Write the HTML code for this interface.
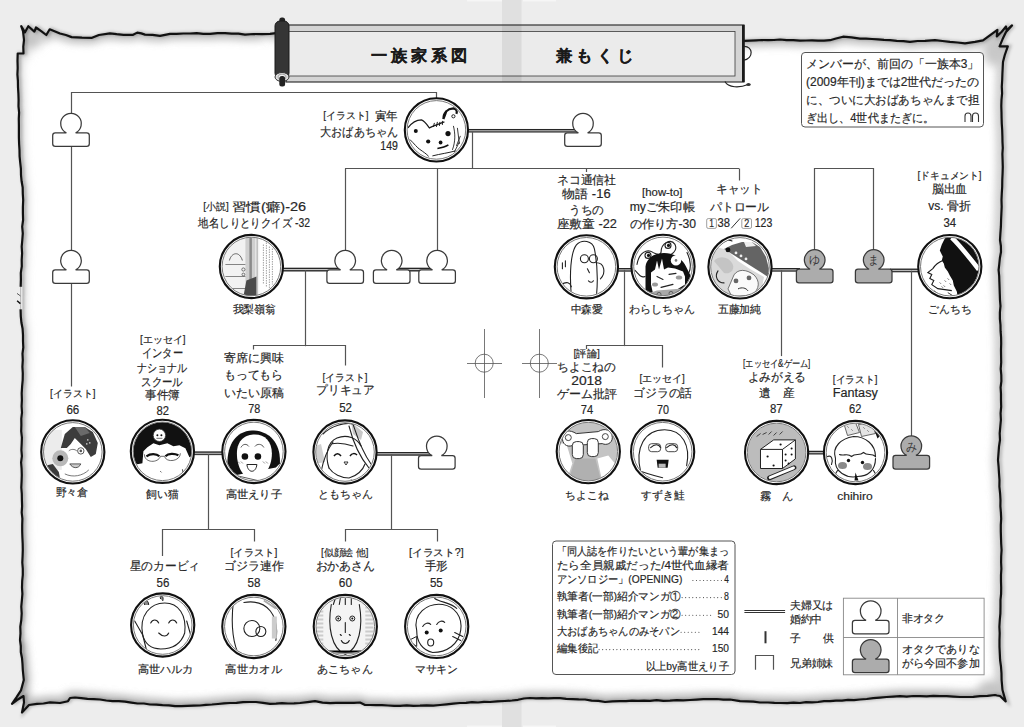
<!DOCTYPE html><html><head><meta charset="utf-8"><style>
html,body{margin:0;padding:0;width:1024px;height:727px;overflow:hidden;background:#ededed;font-family:"Liberation Sans",sans-serif}
</style></head><body>
<svg width="1024" height="727" viewBox="0 0 1024 727" style="position:absolute;left:0;top:0" font-family="'Liberation Sans', sans-serif">
<defs>
<clipPath id="pc"><path d="M21.2,26.2 L25.0,32.3 L28.3,26.2 L34.4,31.6 L36.0,27.5 L41.2,31.1 L46.3,35.0 L49.7,29.3 L60.0,33.5 L65.9,35.0 L71.6,37.1 L82.0,37.6 L92.0,37.8 L98.9,35.0 L109.9,33.3 L116.7,34.2 L123.5,34.8 L133.1,34.8 L137.2,32.6 L141.3,33.4 L145.0,34.6 L152.5,34.8 L160.0,35.8 L170.0,33.9 L176.7,33.8 L183.3,33.5 L190.0,33.5 L196.7,33.2 L203.3,33.8 L210.0,33.9 L217.5,33.1 L225.0,33.2 L231.7,33.6 L238.4,33.7 L245.0,34.6 L253.5,34.0 L262.0,34.2 L270.0,33.9 L276.0,33.2 L282.0,33.2 L288.0,33.7 L294.0,33.2 L300.0,33.3 L306.0,33.8 L312.0,34.2 L318.0,34.0 L324.0,33.9 L330.0,34.5 L336.0,33.8 L342.0,34.6 L348.0,34.2 L354.0,34.2 L360.0,34.2 L366.0,34.5 L372.0,35.1 L378.0,34.6 L384.0,35.1 L390.0,35.2 L396.0,35.1 L402.0,35.3 L408.0,35.0 L414.0,35.1 L420.0,35.3 L426.0,35.8 L432.0,35.7 L438.0,35.7 L444.0,36.0 L450.0,36.0 L456.0,36.0 L462.0,36.5 L468.0,36.5 L474.0,36.2 L480.0,36.6 L486.0,36.7 L492.0,37.1 L498.0,37.1 L504.0,36.8 L510.0,37.5 L516.0,36.8 L522.0,37.2 L528.0,37.6 L534.0,37.1 L540.0,37.5 L546.0,37.2 L552.0,37.9 L558.0,38.1 L564.0,38.0 L570.0,38.4 L576.0,38.0 L582.0,38.4 L588.0,38.4 L594.0,38.5 L600.0,38.5 L606.0,38.9 L612.0,39.1 L618.0,38.8 L624.0,39.1 L630.0,38.6 L636.0,39.3 L642.0,39.4 L648.0,39.8 L654.0,39.7 L660.0,39.3 L666.0,39.5 L672.0,39.9 L678.0,39.4 L684.0,39.9 L690.0,39.7 L696.0,39.8 L702.0,39.8 L708.0,40.5 L714.0,40.1 L720.0,40.3 L726.0,40.5 L732.0,41.0 L738.0,40.4 L744.0,40.9 L750.0,40.6 L756.0,40.3 L762.0,40.0 L768.0,40.2 L774.0,40.0 L780.0,39.5 L786.6,40.2 L793.3,40.1 L800.0,40.7 L806.0,40.5 L812.0,40.4 L818.0,40.7 L824.0,40.7 L830.0,40.2 L836.0,38.5 L843.0,36.7 L851.5,37.3 L860.0,38.6 L866.0,38.6 L872.0,39.0 L878.0,39.3 L884.0,39.9 L890.0,40.2 L896.7,40.8 L903.4,41.1 L910.0,41.9 L917.5,41.0 L925.0,40.9 L935.0,40.2 L942.5,41.0 L950.0,41.9 L957.5,42.5 L965.0,43.3 L975.0,41.9 L983.0,40.3 L990.2,35.1 L997.4,29.8 L996.8,36.4 L1001.7,31.7 L1006.0,26.5 L1006.7,30.4 L1012.0,25.4 L1006.0,32.0 L1002.6,39.1 L999.6,46.3 L1007.8,46.3 L1004.8,55.0 L1003.0,62.0 L1003.0,62.0 L1002.7,68.0 L1002.4,74.0 L1002.2,80.0 L1001.8,86.7 L1002.1,93.3 L1001.5,100.0 L1001.3,106.0 L1001.5,112.0 L1001.6,118.0 L1001.8,124.0 L1002.2,130.0 L1002.4,136.0 L1002.5,142.0 L1002.8,148.0 L1002.4,154.0 L1002.6,160.0 L1002.8,166.7 L1002.6,173.3 L1002.3,180.0 L1002.2,186.7 L1001.8,193.3 L1001.5,200.0 L1001.7,206.7 L1001.4,213.4 L1001.1,220.0 L1000.9,226.7 L1000.4,233.3 L1000.0,240.0 L1000.9,246.0 L1001.0,252.0 L999.9,258.0 L999.3,264.0 L998.6,270.0 L999.2,276.0 L999.4,282.0 L999.6,288.0 L999.8,294.0 L1000.0,300.0 L1000.5,306.2 L999.9,312.5 L999.9,318.8 L1000.5,325.0 L1000.6,331.2 L1001.1,337.5 L1001.2,343.7 L1001.0,350.0 L1001.1,356.2 L1001.2,362.5 L1000.7,368.8 L1001.3,375.0 L1001.4,381.2 L1000.6,387.5 L1001.0,393.8 L1001.0,400.0 L1001.2,406.7 L1000.6,413.3 L1000.9,420.0 L1000.3,426.7 L999.7,433.3 L1000.0,440.0 L999.0,446.6 L998.5,453.3 L998.0,460.0 L998.6,466.7 L999.0,473.3 L999.5,480.0 L999.4,486.7 L1000.1,493.3 L1000.5,500.0 L1000.4,506.3 L1000.9,512.5 L1001.2,518.7 L1000.8,525.0 L1000.8,531.3 L1001.0,537.5 L1001.2,543.8 L1001.6,550.0 L1001.2,556.2 L1001.1,562.5 L1001.4,568.8 L1001.0,575.0 L1001.0,581.3 L1001.2,587.5 L1001.1,593.8 L1000.5,600.0 L1000.5,606.7 L1000.4,613.3 L999.8,620.0 L999.4,626.7 L999.7,633.3 L999.5,640.0 L999.5,646.7 L999.8,653.4 L1000.1,660.0 L1001.0,666.7 L1001.5,673.3 L1001.6,680.0 L1002.5,690.0 L1005.7,701.4 L1005.7,701.4 L1000.0,696.0 L997.0,695.5 L995.0,695.0 L987.5,695.9 L980.0,696.2 L973.3,696.8 L966.7,697.0 L960.0,697.0 L953.3,696.6 L946.7,696.1 L940.0,696.2 L933.3,695.9 L926.7,696.3 L920.0,696.1 L913.3,696.0 L906.7,696.6 L900.0,696.2 L893.3,696.6 L886.6,697.0 L880.0,697.6 L873.3,698.2 L866.7,699.0 L860.0,699.5 L854.0,700.1 L848.0,699.9 L842.0,700.7 L836.0,700.6 L830.0,701.2 L824.0,701.2 L818.0,702.0 L812.0,702.4 L806.0,702.2 L800.0,703.0 L793.6,702.7 L787.2,703.1 L780.8,703.0 L774.4,702.9 L768.0,702.5 L760.0,702.5 L753.4,701.7 L746.7,701.4 L740.0,701.2 L730.0,699.5 L723.3,699.7 L716.7,699.0 L710.0,699.2 L703.3,699.1 L696.7,699.6 L690.0,700.0 L683.3,700.3 L676.7,700.2 L670.0,700.7 L663.3,700.9 L656.7,700.2 L650.0,700.8 L644.0,700.7 L638.0,700.9 L632.0,700.7 L626.0,701.2 L620.0,701.2 L612.5,701.3 L605.0,702.0 L598.4,700.9 L591.6,700.6 L585.0,699.5 L578.7,699.4 L572.5,699.1 L566.2,698.8 L560.0,698.2 L554.0,698.1 L548.0,698.4 L542.0,698.2 L536.0,698.4 L530.0,698.0 L523.9,698.5 L518.0,699.8 L512.0,700.5 L504.7,701.0 L497.3,701.4 L490.0,702.0 L484.0,701.8 L478.0,702.5 L472.0,702.2 L466.0,702.8 L460.0,703.0 L453.3,703.6 L446.7,704.3 L440.0,705.0 L433.3,705.6 L426.7,705.3 L420.0,705.7 L413.3,705.9 L406.7,705.4 L400.0,705.8 L394.0,705.9 L388.0,705.5 L382.0,705.1 L376.0,705.1 L370.0,705.0 L365.0,705.0 L360.0,702.5 L354.0,702.8 L348.0,702.8 L342.0,702.9 L336.0,702.8 L330.0,703.2 L322.5,702.6 L315.0,701.2 L307.5,702.1 L300.0,703.0 L294.0,703.4 L288.0,703.5 L282.0,703.2 L276.0,703.6 L270.0,703.8 L263.0,702.8 L256.0,702.0 L249.5,702.0 L243.0,702.1 L236.5,702.8 L230.0,703.0 L224.0,703.4 L218.0,704.0 L212.0,704.5 L206.0,704.8 L200.0,705.5 L193.8,705.7 L187.5,705.8 L181.3,706.1 L175.0,706.2 L168.8,705.4 L162.5,705.2 L156.3,704.6 L150.0,704.5 L143.8,703.5 L137.5,703.5 L131.3,702.6 L125.0,701.6 L118.8,701.1 L112.5,701.1 L106.2,700.5 L100.0,699.5 L93.7,699.1 L87.5,698.9 L81.2,698.2 L75.0,697.5 L70.0,698.0 L68.0,701.2 L60.0,703.0 L50.0,702.4 L43.5,703.5 L37.0,703.8 L29.0,705.0 L22.0,712.5 L24.0,702.4 L23.5,696.0 L17.0,700.0 L12.0,703.8 L16.6,697.2 L21.0,690.4 L23.8,680.0 L22.8,670.0 L22.5,664.0 L22.0,658.0 L20.8,652.0 L20.8,646.0 L20.0,640.0 L20.0,640.0 L20.5,633.3 L20.3,626.7 L21.3,620.0 L21.7,613.4 L21.3,606.7 L21.9,600.0 L22.4,593.8 L22.0,587.5 L22.2,581.2 L22.8,575.0 L22.8,568.8 L22.3,562.5 L22.6,556.2 L22.8,550.0 L22.7,543.7 L22.4,537.5 L22.2,531.3 L22.2,525.0 L22.4,518.7 L21.7,512.5 L22.1,506.2 L21.9,500.0 L21.8,493.8 L21.3,487.5 L21.6,481.3 L21.8,475.0 L21.6,468.7 L21.1,462.5 L21.9,456.2 L21.4,450.0 L21.7,443.8 L21.9,437.5 L21.2,431.2 L21.4,425.0 L21.3,418.7 L22.0,412.5 L21.6,406.2 L21.9,400.0 L21.7,393.3 L22.1,386.7 L22.7,380.0 L22.8,373.3 L22.4,366.7 L22.8,360.0 L22.5,353.7 L23.3,347.5 L23.0,341.3 L23.0,335.0 L22.6,328.7 L21.4,322.5 L20.8,316.3 L20.6,310.0 L20.6,304.0 L20.6,298.0 L20.8,292.0 L20.7,286.0 L20.9,279.4 L20.8,272.8 L21.8,266.3 L21.7,259.7 L22.1,253.2 L21.7,246.6 L22.3,240.0 L22.8,233.3 L22.2,226.7 L23.1,220.0 L22.9,213.3 L22.9,206.7 L23.2,200.0 L22.8,193.7 L22.7,187.5 L21.6,181.3 L21.0,175.0 L20.9,168.7 L20.2,162.5 L19.6,156.3 L19.5,150.0 L19.1,143.8 L18.9,137.5 L18.9,131.3 L18.9,125.0 L18.8,118.8 L19.1,112.5 L18.5,106.3 L18.6,100.0 L18.4,93.6 L18.0,87.2 L17.9,80.8 L17.4,74.4 L17.7,68.0 L17.5,60.8 L17.7,53.5 L23.5,53.5 L23.3,46.7 L24.0,40.0 L23.0,31.0 L21.2,26.2 Z"/></clipPath>
<filter id="bl" filterUnits="userSpaceOnUse" x="-20" y="-20" width="1064" height="767"><feGaussianBlur stdDeviation="4.5"/></filter><filter id="blb" x="-100%" y="-100%" width="300%" height="300%"><feGaussianBlur stdDeviation="5"/></filter><filter id="bl3" filterUnits="userSpaceOnUse" x="-20" y="-20" width="1064" height="767"><feGaussianBlur stdDeviation="1.5"/></filter>
</defs>
<rect width="1024" height="727" fill="#ededed"/>
<rect x="502" y="0" width="19.5" height="727" fill="#e0e0e0"/>
<rect x="467" y="0" width="35" height="1.5" fill="#f6f6f6"/><rect x="523" y="0" width="33" height="1.5" fill="#f6f6f6"/><rect x="467" y="725.5" width="35" height="1.5" fill="#f6f6f6"/><rect x="523" y="725.5" width="33" height="1.5" fill="#f6f6f6"/>
<path d="M21.2,26.2 L25.0,32.3 L28.3,26.2 L34.4,31.6 L36.0,27.5 L41.2,31.1 L46.3,35.0 L49.7,29.3 L60.0,33.5 L65.9,35.0 L71.6,37.1 L82.0,37.6 L92.0,37.8 L98.9,35.0 L109.9,33.3 L116.7,34.2 L123.5,34.8 L133.1,34.8 L137.2,32.6 L141.3,33.4 L145.0,34.6 L152.5,34.8 L160.0,35.8 L170.0,33.9 L176.7,33.8 L183.3,33.5 L190.0,33.5 L196.7,33.2 L203.3,33.8 L210.0,33.9 L217.5,33.1 L225.0,33.2 L231.7,33.6 L238.4,33.7 L245.0,34.6 L253.5,34.0 L262.0,34.2 L270.0,33.9 L276.0,33.2 L282.0,33.2 L288.0,33.7 L294.0,33.2 L300.0,33.3 L306.0,33.8 L312.0,34.2 L318.0,34.0 L324.0,33.9 L330.0,34.5 L336.0,33.8 L342.0,34.6 L348.0,34.2 L354.0,34.2 L360.0,34.2 L366.0,34.5 L372.0,35.1 L378.0,34.6 L384.0,35.1 L390.0,35.2 L396.0,35.1 L402.0,35.3 L408.0,35.0 L414.0,35.1 L420.0,35.3 L426.0,35.8 L432.0,35.7 L438.0,35.7 L444.0,36.0 L450.0,36.0 L456.0,36.0 L462.0,36.5 L468.0,36.5 L474.0,36.2 L480.0,36.6 L486.0,36.7 L492.0,37.1 L498.0,37.1 L504.0,36.8 L510.0,37.5 L516.0,36.8 L522.0,37.2 L528.0,37.6 L534.0,37.1 L540.0,37.5 L546.0,37.2 L552.0,37.9 L558.0,38.1 L564.0,38.0 L570.0,38.4 L576.0,38.0 L582.0,38.4 L588.0,38.4 L594.0,38.5 L600.0,38.5 L606.0,38.9 L612.0,39.1 L618.0,38.8 L624.0,39.1 L630.0,38.6 L636.0,39.3 L642.0,39.4 L648.0,39.8 L654.0,39.7 L660.0,39.3 L666.0,39.5 L672.0,39.9 L678.0,39.4 L684.0,39.9 L690.0,39.7 L696.0,39.8 L702.0,39.8 L708.0,40.5 L714.0,40.1 L720.0,40.3 L726.0,40.5 L732.0,41.0 L738.0,40.4 L744.0,40.9 L750.0,40.6 L756.0,40.3 L762.0,40.0 L768.0,40.2 L774.0,40.0 L780.0,39.5 L786.6,40.2 L793.3,40.1 L800.0,40.7 L806.0,40.5 L812.0,40.4 L818.0,40.7 L824.0,40.7 L830.0,40.2 L836.0,38.5 L843.0,36.7 L851.5,37.3 L860.0,38.6 L866.0,38.6 L872.0,39.0 L878.0,39.3 L884.0,39.9 L890.0,40.2 L896.7,40.8 L903.4,41.1 L910.0,41.9 L917.5,41.0 L925.0,40.9 L935.0,40.2 L942.5,41.0 L950.0,41.9 L957.5,42.5 L965.0,43.3 L975.0,41.9 L983.0,40.3 L990.2,35.1 L997.4,29.8 L996.8,36.4 L1001.7,31.7 L1006.0,26.5 L1006.7,30.4 L1012.0,25.4 L1006.0,32.0 L1002.6,39.1 L999.6,46.3 L1007.8,46.3 L1004.8,55.0 L1003.0,62.0 L1003.0,62.0 L1002.7,68.0 L1002.4,74.0 L1002.2,80.0 L1001.8,86.7 L1002.1,93.3 L1001.5,100.0 L1001.3,106.0 L1001.5,112.0 L1001.6,118.0 L1001.8,124.0 L1002.2,130.0 L1002.4,136.0 L1002.5,142.0 L1002.8,148.0 L1002.4,154.0 L1002.6,160.0 L1002.8,166.7 L1002.6,173.3 L1002.3,180.0 L1002.2,186.7 L1001.8,193.3 L1001.5,200.0 L1001.7,206.7 L1001.4,213.4 L1001.1,220.0 L1000.9,226.7 L1000.4,233.3 L1000.0,240.0 L1000.9,246.0 L1001.0,252.0 L999.9,258.0 L999.3,264.0 L998.6,270.0 L999.2,276.0 L999.4,282.0 L999.6,288.0 L999.8,294.0 L1000.0,300.0 L1000.5,306.2 L999.9,312.5 L999.9,318.8 L1000.5,325.0 L1000.6,331.2 L1001.1,337.5 L1001.2,343.7 L1001.0,350.0 L1001.1,356.2 L1001.2,362.5 L1000.7,368.8 L1001.3,375.0 L1001.4,381.2 L1000.6,387.5 L1001.0,393.8 L1001.0,400.0 L1001.2,406.7 L1000.6,413.3 L1000.9,420.0 L1000.3,426.7 L999.7,433.3 L1000.0,440.0 L999.0,446.6 L998.5,453.3 L998.0,460.0 L998.6,466.7 L999.0,473.3 L999.5,480.0 L999.4,486.7 L1000.1,493.3 L1000.5,500.0 L1000.4,506.3 L1000.9,512.5 L1001.2,518.7 L1000.8,525.0 L1000.8,531.3 L1001.0,537.5 L1001.2,543.8 L1001.6,550.0 L1001.2,556.2 L1001.1,562.5 L1001.4,568.8 L1001.0,575.0 L1001.0,581.3 L1001.2,587.5 L1001.1,593.8 L1000.5,600.0 L1000.5,606.7 L1000.4,613.3 L999.8,620.0 L999.4,626.7 L999.7,633.3 L999.5,640.0 L999.5,646.7 L999.8,653.4 L1000.1,660.0 L1001.0,666.7 L1001.5,673.3 L1001.6,680.0 L1002.5,690.0 L1005.7,701.4 L1005.7,701.4 L1000.0,696.0 L997.0,695.5 L995.0,695.0 L987.5,695.9 L980.0,696.2 L973.3,696.8 L966.7,697.0 L960.0,697.0 L953.3,696.6 L946.7,696.1 L940.0,696.2 L933.3,695.9 L926.7,696.3 L920.0,696.1 L913.3,696.0 L906.7,696.6 L900.0,696.2 L893.3,696.6 L886.6,697.0 L880.0,697.6 L873.3,698.2 L866.7,699.0 L860.0,699.5 L854.0,700.1 L848.0,699.9 L842.0,700.7 L836.0,700.6 L830.0,701.2 L824.0,701.2 L818.0,702.0 L812.0,702.4 L806.0,702.2 L800.0,703.0 L793.6,702.7 L787.2,703.1 L780.8,703.0 L774.4,702.9 L768.0,702.5 L760.0,702.5 L753.4,701.7 L746.7,701.4 L740.0,701.2 L730.0,699.5 L723.3,699.7 L716.7,699.0 L710.0,699.2 L703.3,699.1 L696.7,699.6 L690.0,700.0 L683.3,700.3 L676.7,700.2 L670.0,700.7 L663.3,700.9 L656.7,700.2 L650.0,700.8 L644.0,700.7 L638.0,700.9 L632.0,700.7 L626.0,701.2 L620.0,701.2 L612.5,701.3 L605.0,702.0 L598.4,700.9 L591.6,700.6 L585.0,699.5 L578.7,699.4 L572.5,699.1 L566.2,698.8 L560.0,698.2 L554.0,698.1 L548.0,698.4 L542.0,698.2 L536.0,698.4 L530.0,698.0 L523.9,698.5 L518.0,699.8 L512.0,700.5 L504.7,701.0 L497.3,701.4 L490.0,702.0 L484.0,701.8 L478.0,702.5 L472.0,702.2 L466.0,702.8 L460.0,703.0 L453.3,703.6 L446.7,704.3 L440.0,705.0 L433.3,705.6 L426.7,705.3 L420.0,705.7 L413.3,705.9 L406.7,705.4 L400.0,705.8 L394.0,705.9 L388.0,705.5 L382.0,705.1 L376.0,705.1 L370.0,705.0 L365.0,705.0 L360.0,702.5 L354.0,702.8 L348.0,702.8 L342.0,702.9 L336.0,702.8 L330.0,703.2 L322.5,702.6 L315.0,701.2 L307.5,702.1 L300.0,703.0 L294.0,703.4 L288.0,703.5 L282.0,703.2 L276.0,703.6 L270.0,703.8 L263.0,702.8 L256.0,702.0 L249.5,702.0 L243.0,702.1 L236.5,702.8 L230.0,703.0 L224.0,703.4 L218.0,704.0 L212.0,704.5 L206.0,704.8 L200.0,705.5 L193.8,705.7 L187.5,705.8 L181.3,706.1 L175.0,706.2 L168.8,705.4 L162.5,705.2 L156.3,704.6 L150.0,704.5 L143.8,703.5 L137.5,703.5 L131.3,702.6 L125.0,701.6 L118.8,701.1 L112.5,701.1 L106.2,700.5 L100.0,699.5 L93.7,699.1 L87.5,698.9 L81.2,698.2 L75.0,697.5 L70.0,698.0 L68.0,701.2 L60.0,703.0 L50.0,702.4 L43.5,703.5 L37.0,703.8 L29.0,705.0 L22.0,712.5 L24.0,702.4 L23.5,696.0 L17.0,700.0 L12.0,703.8 L16.6,697.2 L21.0,690.4 L23.8,680.0 L22.8,670.0 L22.5,664.0 L22.0,658.0 L20.8,652.0 L20.8,646.0 L20.0,640.0 L20.0,640.0 L20.5,633.3 L20.3,626.7 L21.3,620.0 L21.7,613.4 L21.3,606.7 L21.9,600.0 L22.4,593.8 L22.0,587.5 L22.2,581.2 L22.8,575.0 L22.8,568.8 L22.3,562.5 L22.6,556.2 L22.8,550.0 L22.7,543.7 L22.4,537.5 L22.2,531.3 L22.2,525.0 L22.4,518.7 L21.7,512.5 L22.1,506.2 L21.9,500.0 L21.8,493.8 L21.3,487.5 L21.6,481.3 L21.8,475.0 L21.6,468.7 L21.1,462.5 L21.9,456.2 L21.4,450.0 L21.7,443.8 L21.9,437.5 L21.2,431.2 L21.4,425.0 L21.3,418.7 L22.0,412.5 L21.6,406.2 L21.9,400.0 L21.7,393.3 L22.1,386.7 L22.7,380.0 L22.8,373.3 L22.4,366.7 L22.8,360.0 L22.5,353.7 L23.3,347.5 L23.0,341.3 L23.0,335.0 L22.6,328.7 L21.4,322.5 L20.8,316.3 L20.6,310.0 L20.6,304.0 L20.6,298.0 L20.8,292.0 L20.7,286.0 L20.9,279.4 L20.8,272.8 L21.8,266.3 L21.7,259.7 L22.1,253.2 L21.7,246.6 L22.3,240.0 L22.8,233.3 L22.2,226.7 L23.1,220.0 L22.9,213.3 L22.9,206.7 L23.2,200.0 L22.8,193.7 L22.7,187.5 L21.6,181.3 L21.0,175.0 L20.9,168.7 L20.2,162.5 L19.6,156.3 L19.5,150.0 L19.1,143.8 L18.9,137.5 L18.9,131.3 L18.9,125.0 L18.8,118.8 L19.1,112.5 L18.5,106.3 L18.6,100.0 L18.4,93.6 L18.0,87.2 L17.9,80.8 L17.4,74.4 L17.7,68.0 L17.5,60.8 L17.7,53.5 L23.5,53.5 L23.3,46.7 L24.0,40.0 L23.0,31.0 L21.2,26.2 Z" fill="#fff"/>
<g clip-path="url(#pc)"><path d="M21.2,26.2 L25.0,32.3 L28.3,26.2 L34.4,31.6 L36.0,27.5 L41.2,31.1 L46.3,35.0 L49.7,29.3 L60.0,33.5 L65.9,35.0 L71.6,37.1 L82.0,37.6 L92.0,37.8 L98.9,35.0 L109.9,33.3 L116.7,34.2 L123.5,34.8 L133.1,34.8 L137.2,32.6 L141.3,33.4 L145.0,34.6 L152.5,34.8 L160.0,35.8 L170.0,33.9 L176.7,33.8 L183.3,33.5 L190.0,33.5 L196.7,33.2 L203.3,33.8 L210.0,33.9 L217.5,33.1 L225.0,33.2 L231.7,33.6 L238.4,33.7 L245.0,34.6 L253.5,34.0 L262.0,34.2 L270.0,33.9 L276.0,33.2 L282.0,33.2 L288.0,33.7 L294.0,33.2 L300.0,33.3 L306.0,33.8 L312.0,34.2 L318.0,34.0 L324.0,33.9 L330.0,34.5 L336.0,33.8 L342.0,34.6 L348.0,34.2 L354.0,34.2 L360.0,34.2 L366.0,34.5 L372.0,35.1 L378.0,34.6 L384.0,35.1 L390.0,35.2 L396.0,35.1 L402.0,35.3 L408.0,35.0 L414.0,35.1 L420.0,35.3 L426.0,35.8 L432.0,35.7 L438.0,35.7 L444.0,36.0 L450.0,36.0 L456.0,36.0 L462.0,36.5 L468.0,36.5 L474.0,36.2 L480.0,36.6 L486.0,36.7 L492.0,37.1 L498.0,37.1 L504.0,36.8 L510.0,37.5 L516.0,36.8 L522.0,37.2 L528.0,37.6 L534.0,37.1 L540.0,37.5 L546.0,37.2 L552.0,37.9 L558.0,38.1 L564.0,38.0 L570.0,38.4 L576.0,38.0 L582.0,38.4 L588.0,38.4 L594.0,38.5 L600.0,38.5 L606.0,38.9 L612.0,39.1 L618.0,38.8 L624.0,39.1 L630.0,38.6 L636.0,39.3 L642.0,39.4 L648.0,39.8 L654.0,39.7 L660.0,39.3 L666.0,39.5 L672.0,39.9 L678.0,39.4 L684.0,39.9 L690.0,39.7 L696.0,39.8 L702.0,39.8 L708.0,40.5 L714.0,40.1 L720.0,40.3 L726.0,40.5 L732.0,41.0 L738.0,40.4 L744.0,40.9 L750.0,40.6 L756.0,40.3 L762.0,40.0 L768.0,40.2 L774.0,40.0 L780.0,39.5 L786.6,40.2 L793.3,40.1 L800.0,40.7 L806.0,40.5 L812.0,40.4 L818.0,40.7 L824.0,40.7 L830.0,40.2 L836.0,38.5 L843.0,36.7 L851.5,37.3 L860.0,38.6 L866.0,38.6 L872.0,39.0 L878.0,39.3 L884.0,39.9 L890.0,40.2 L896.7,40.8 L903.4,41.1 L910.0,41.9 L917.5,41.0 L925.0,40.9 L935.0,40.2 L942.5,41.0 L950.0,41.9 L957.5,42.5 L965.0,43.3 L975.0,41.9 L983.0,40.3 L990.2,35.1 L997.4,29.8 L996.8,36.4 L1001.7,31.7 L1006.0,26.5 L1006.7,30.4 L1012.0,25.4 L1006.0,32.0 L1002.6,39.1 L999.6,46.3 L1007.8,46.3 L1004.8,55.0 L1003.0,62.0 L1003.0,62.0 L1002.7,68.0 L1002.4,74.0 L1002.2,80.0 L1001.8,86.7 L1002.1,93.3 L1001.5,100.0 L1001.3,106.0 L1001.5,112.0 L1001.6,118.0 L1001.8,124.0 L1002.2,130.0 L1002.4,136.0 L1002.5,142.0 L1002.8,148.0 L1002.4,154.0 L1002.6,160.0 L1002.8,166.7 L1002.6,173.3 L1002.3,180.0 L1002.2,186.7 L1001.8,193.3 L1001.5,200.0 L1001.7,206.7 L1001.4,213.4 L1001.1,220.0 L1000.9,226.7 L1000.4,233.3 L1000.0,240.0 L1000.9,246.0 L1001.0,252.0 L999.9,258.0 L999.3,264.0 L998.6,270.0 L999.2,276.0 L999.4,282.0 L999.6,288.0 L999.8,294.0 L1000.0,300.0 L1000.5,306.2 L999.9,312.5 L999.9,318.8 L1000.5,325.0 L1000.6,331.2 L1001.1,337.5 L1001.2,343.7 L1001.0,350.0 L1001.1,356.2 L1001.2,362.5 L1000.7,368.8 L1001.3,375.0 L1001.4,381.2 L1000.6,387.5 L1001.0,393.8 L1001.0,400.0 L1001.2,406.7 L1000.6,413.3 L1000.9,420.0 L1000.3,426.7 L999.7,433.3 L1000.0,440.0 L999.0,446.6 L998.5,453.3 L998.0,460.0 L998.6,466.7 L999.0,473.3 L999.5,480.0 L999.4,486.7 L1000.1,493.3 L1000.5,500.0 L1000.4,506.3 L1000.9,512.5 L1001.2,518.7 L1000.8,525.0 L1000.8,531.3 L1001.0,537.5 L1001.2,543.8 L1001.6,550.0 L1001.2,556.2 L1001.1,562.5 L1001.4,568.8 L1001.0,575.0 L1001.0,581.3 L1001.2,587.5 L1001.1,593.8 L1000.5,600.0 L1000.5,606.7 L1000.4,613.3 L999.8,620.0 L999.4,626.7 L999.7,633.3 L999.5,640.0 L999.5,646.7 L999.8,653.4 L1000.1,660.0 L1001.0,666.7 L1001.5,673.3 L1001.6,680.0 L1002.5,690.0 L1005.7,701.4 L1005.7,701.4 L1000.0,696.0 L997.0,695.5 L995.0,695.0 L987.5,695.9 L980.0,696.2 L973.3,696.8 L966.7,697.0 L960.0,697.0 L953.3,696.6 L946.7,696.1 L940.0,696.2 L933.3,695.9 L926.7,696.3 L920.0,696.1 L913.3,696.0 L906.7,696.6 L900.0,696.2 L893.3,696.6 L886.6,697.0 L880.0,697.6 L873.3,698.2 L866.7,699.0 L860.0,699.5 L854.0,700.1 L848.0,699.9 L842.0,700.7 L836.0,700.6 L830.0,701.2 L824.0,701.2 L818.0,702.0 L812.0,702.4 L806.0,702.2 L800.0,703.0 L793.6,702.7 L787.2,703.1 L780.8,703.0 L774.4,702.9 L768.0,702.5 L760.0,702.5 L753.4,701.7 L746.7,701.4 L740.0,701.2 L730.0,699.5 L723.3,699.7 L716.7,699.0 L710.0,699.2 L703.3,699.1 L696.7,699.6 L690.0,700.0 L683.3,700.3 L676.7,700.2 L670.0,700.7 L663.3,700.9 L656.7,700.2 L650.0,700.8 L644.0,700.7 L638.0,700.9 L632.0,700.7 L626.0,701.2 L620.0,701.2 L612.5,701.3 L605.0,702.0 L598.4,700.9 L591.6,700.6 L585.0,699.5 L578.7,699.4 L572.5,699.1 L566.2,698.8 L560.0,698.2 L554.0,698.1 L548.0,698.4 L542.0,698.2 L536.0,698.4 L530.0,698.0 L523.9,698.5 L518.0,699.8 L512.0,700.5 L504.7,701.0 L497.3,701.4 L490.0,702.0 L484.0,701.8 L478.0,702.5 L472.0,702.2 L466.0,702.8 L460.0,703.0 L453.3,703.6 L446.7,704.3 L440.0,705.0 L433.3,705.6 L426.7,705.3 L420.0,705.7 L413.3,705.9 L406.7,705.4 L400.0,705.8 L394.0,705.9 L388.0,705.5 L382.0,705.1 L376.0,705.1 L370.0,705.0 L365.0,705.0 L360.0,702.5 L354.0,702.8 L348.0,702.8 L342.0,702.9 L336.0,702.8 L330.0,703.2 L322.5,702.6 L315.0,701.2 L307.5,702.1 L300.0,703.0 L294.0,703.4 L288.0,703.5 L282.0,703.2 L276.0,703.6 L270.0,703.8 L263.0,702.8 L256.0,702.0 L249.5,702.0 L243.0,702.1 L236.5,702.8 L230.0,703.0 L224.0,703.4 L218.0,704.0 L212.0,704.5 L206.0,704.8 L200.0,705.5 L193.8,705.7 L187.5,705.8 L181.3,706.1 L175.0,706.2 L168.8,705.4 L162.5,705.2 L156.3,704.6 L150.0,704.5 L143.8,703.5 L137.5,703.5 L131.3,702.6 L125.0,701.6 L118.8,701.1 L112.5,701.1 L106.2,700.5 L100.0,699.5 L93.7,699.1 L87.5,698.9 L81.2,698.2 L75.0,697.5 L70.0,698.0 L68.0,701.2 L60.0,703.0 L50.0,702.4 L43.5,703.5 L37.0,703.8 L29.0,705.0 L22.0,712.5 L24.0,702.4 L23.5,696.0 L17.0,700.0 L12.0,703.8 L16.6,697.2 L21.0,690.4 L23.8,680.0 L22.8,670.0 L22.5,664.0 L22.0,658.0 L20.8,652.0 L20.8,646.0 L20.0,640.0 L20.0,640.0 L20.5,633.3 L20.3,626.7 L21.3,620.0 L21.7,613.4 L21.3,606.7 L21.9,600.0 L22.4,593.8 L22.0,587.5 L22.2,581.2 L22.8,575.0 L22.8,568.8 L22.3,562.5 L22.6,556.2 L22.8,550.0 L22.7,543.7 L22.4,537.5 L22.2,531.3 L22.2,525.0 L22.4,518.7 L21.7,512.5 L22.1,506.2 L21.9,500.0 L21.8,493.8 L21.3,487.5 L21.6,481.3 L21.8,475.0 L21.6,468.7 L21.1,462.5 L21.9,456.2 L21.4,450.0 L21.7,443.8 L21.9,437.5 L21.2,431.2 L21.4,425.0 L21.3,418.7 L22.0,412.5 L21.6,406.2 L21.9,400.0 L21.7,393.3 L22.1,386.7 L22.7,380.0 L22.8,373.3 L22.4,366.7 L22.8,360.0 L22.5,353.7 L23.3,347.5 L23.0,341.3 L23.0,335.0 L22.6,328.7 L21.4,322.5 L20.8,316.3 L20.6,310.0 L20.6,304.0 L20.6,298.0 L20.8,292.0 L20.7,286.0 L20.9,279.4 L20.8,272.8 L21.8,266.3 L21.7,259.7 L22.1,253.2 L21.7,246.6 L22.3,240.0 L22.8,233.3 L22.2,226.7 L23.1,220.0 L22.9,213.3 L22.9,206.7 L23.2,200.0 L22.8,193.7 L22.7,187.5 L21.6,181.3 L21.0,175.0 L20.9,168.7 L20.2,162.5 L19.6,156.3 L19.5,150.0 L19.1,143.8 L18.9,137.5 L18.9,131.3 L18.9,125.0 L18.8,118.8 L19.1,112.5 L18.5,106.3 L18.6,100.0 L18.4,93.6 L18.0,87.2 L17.9,80.8 L17.4,74.4 L17.7,68.0 L17.5,60.8 L17.7,53.5 L23.5,53.5 L23.3,46.7 L24.0,40.0 L23.0,31.0 L21.2,26.2 Z" fill="none" stroke="#d4d4d4" stroke-width="10" filter="url(#bl)"/>
<path d="M21.2,26.2 L25.0,32.3 L28.3,26.2 L34.4,31.6 L36.0,27.5 L46.3,35.0 L49.7,29.3 L60.0,33.5 L71.6,37.1 L82.0,37.6 L92.0,37.8 L98.9,35.0 L109.9,33.3 L123.5,34.8 L133.1,34.8 L137.2,32.6 L141.3,33.4 L145.0,34.6 L160.0,35.8 L170.0,33.9 L190.0,33.5 L210.0,33.9 L225.0,33.2 L245.0,34.6 L262.0,34.2" fill="none" stroke="#c6c6c6" stroke-width="9" filter="url(#bl)"/>
<path d="M270.0,33.9 L276.0,33.2 L744.0,40.9 L762.0,40.0 L780.0,39.5 L800.0,40.7 L830.0,40.2 L836.0,38.5 L843.0,36.7 L860.0,38.6 L890.0,40.2 L910.0,41.9 L925.0,40.9 L935.0,40.2 L950.0,41.9 L965.0,43.3 L975.0,41.9 L983.0,40.3 L997.4,29.8 L996.8,36.4 L1006.0,26.5 L1006.7,30.4 L1012.0,25.4 L1006.0,32.0 L999.6,46.3 L1007.8,46.3 L1004.8,55.0 L1003.0,62.0" fill="none" stroke="#c6c6c6" stroke-width="9" filter="url(#bl)"/>
<path d="M1005.7,701.4 L1000.0,696.0 L997.0,695.5 L995.0,695.0 L980.0,696.2 L960.0,697.0 L940.0,696.2 L900.0,696.2 L860.0,699.5 L830.0,701.2 L800.0,703.0 L768.0,702.5 L760.0,702.5 L740.0,701.2 L730.0,699.5 L710.0,699.2 L690.0,700.0 L650.0,700.8 L620.0,701.2 L605.0,702.0 L585.0,699.5 L560.0,698.2 L530.0,698.0 L512.0,700.5 L490.0,702.0 L460.0,703.0 L440.0,705.0 L400.0,705.8 L370.0,705.0 L365.0,705.0 L360.0,702.5 L330.0,703.2 L315.0,701.2 L300.0,703.0 L270.0,703.8 L256.0,702.0 L230.0,703.0 L200.0,705.5 L175.0,706.2 L150.0,704.5 L100.0,699.5 L75.0,697.5 L70.0,698.0 L68.0,701.2 L60.0,703.0 L50.0,702.4 L37.0,703.8 L29.0,705.0 L22.0,712.5 L24.0,702.4 L23.5,696.0 L17.0,700.0 L12.0,703.8 L21.0,690.4 L23.8,680.0 L22.8,670.0 L20.0,640.0" fill="none" stroke="#bcbcbc" stroke-width="10" filter="url(#bl)"/>
<path d="M1003.0,62.0 L1002.2,80.0 L1001.5,100.0 L1002.2,130.0 L1002.6,160.0 L1001.5,200.0 L1000.0,240.0 L1001.0,252.0 L998.6,270.0 L1000.0,300.0 L1001.0,350.0 L1001.0,400.0 L1000.0,440.0 L998.0,460.0 L1000.5,500.0 L1001.6,550.0 L1000.5,600.0 L999.5,640.0 L1001.6,680.0 L1002.5,690.0 L1005.7,701.4" fill="none" stroke="#d0d0d0" stroke-width="8" filter="url(#bl)"/>
<ellipse cx="30" cy="40" rx="12" ry="9" fill="#c4c4c4" filter="url(#blb)"/>
<ellipse cx="995" cy="52" rx="12" ry="14" fill="#c8c8c8" filter="url(#blb)"/>
<ellipse cx="992" cy="690" rx="14" ry="10" fill="#c4c4c4" filter="url(#blb)"/></g>
<path d="M21.2,26.2 L25.0,32.3 L28.3,26.2 L34.4,31.6 L36.0,27.5 L41.2,31.1 L46.3,35.0 L49.7,29.3 L60.0,33.5 L65.9,35.0 L71.6,37.1 L82.0,37.6 L92.0,37.8 L98.9,35.0 L109.9,33.3 L116.7,34.2 L123.5,34.8 L133.1,34.8 L137.2,32.6 L141.3,33.4 L145.0,34.6 L152.5,34.8 L160.0,35.8 L170.0,33.9 L176.7,33.8 L183.3,33.5 L190.0,33.5 L196.7,33.2 L203.3,33.8 L210.0,33.9 L217.5,33.1 L225.0,33.2 L231.7,33.6 L238.4,33.7 L245.0,34.6 L253.5,34.0 L262.0,34.2 L270.0,33.9 L276.0,33.2 L282.0,33.2 L288.0,33.7 L294.0,33.2 L300.0,33.3 L306.0,33.8 L312.0,34.2 L318.0,34.0 L324.0,33.9 L330.0,34.5 L336.0,33.8 L342.0,34.6 L348.0,34.2 L354.0,34.2 L360.0,34.2 L366.0,34.5 L372.0,35.1 L378.0,34.6 L384.0,35.1 L390.0,35.2 L396.0,35.1 L402.0,35.3 L408.0,35.0 L414.0,35.1 L420.0,35.3 L426.0,35.8 L432.0,35.7 L438.0,35.7 L444.0,36.0 L450.0,36.0 L456.0,36.0 L462.0,36.5 L468.0,36.5 L474.0,36.2 L480.0,36.6 L486.0,36.7 L492.0,37.1 L498.0,37.1 L504.0,36.8 L510.0,37.5 L516.0,36.8 L522.0,37.2 L528.0,37.6 L534.0,37.1 L540.0,37.5 L546.0,37.2 L552.0,37.9 L558.0,38.1 L564.0,38.0 L570.0,38.4 L576.0,38.0 L582.0,38.4 L588.0,38.4 L594.0,38.5 L600.0,38.5 L606.0,38.9 L612.0,39.1 L618.0,38.8 L624.0,39.1 L630.0,38.6 L636.0,39.3 L642.0,39.4 L648.0,39.8 L654.0,39.7 L660.0,39.3 L666.0,39.5 L672.0,39.9 L678.0,39.4 L684.0,39.9 L690.0,39.7 L696.0,39.8 L702.0,39.8 L708.0,40.5 L714.0,40.1 L720.0,40.3 L726.0,40.5 L732.0,41.0 L738.0,40.4 L744.0,40.9 L750.0,40.6 L756.0,40.3 L762.0,40.0 L768.0,40.2 L774.0,40.0 L780.0,39.5 L786.6,40.2 L793.3,40.1 L800.0,40.7 L806.0,40.5 L812.0,40.4 L818.0,40.7 L824.0,40.7 L830.0,40.2 L836.0,38.5 L843.0,36.7 L851.5,37.3 L860.0,38.6 L866.0,38.6 L872.0,39.0 L878.0,39.3 L884.0,39.9 L890.0,40.2 L896.7,40.8 L903.4,41.1 L910.0,41.9 L917.5,41.0 L925.0,40.9 L935.0,40.2 L942.5,41.0 L950.0,41.9 L957.5,42.5 L965.0,43.3 L975.0,41.9 L983.0,40.3 L990.2,35.1 L997.4,29.8 L996.8,36.4 L1001.7,31.7 L1006.0,26.5 L1006.7,30.4 L1012.0,25.4 L1006.0,32.0 L1002.6,39.1 L999.6,46.3 L1007.8,46.3 L1004.8,55.0 L1003.0,62.0 L1003.0,62.0 L1002.7,68.0 L1002.4,74.0 L1002.2,80.0 L1001.8,86.7 L1002.1,93.3 L1001.5,100.0 L1001.3,106.0 L1001.5,112.0 L1001.6,118.0 L1001.8,124.0 L1002.2,130.0 L1002.4,136.0 L1002.5,142.0 L1002.8,148.0 L1002.4,154.0 L1002.6,160.0 L1002.8,166.7 L1002.6,173.3 L1002.3,180.0 L1002.2,186.7 L1001.8,193.3 L1001.5,200.0 L1001.7,206.7 L1001.4,213.4 L1001.1,220.0 L1000.9,226.7 L1000.4,233.3 L1000.0,240.0 L1000.9,246.0 L1001.0,252.0 L999.9,258.0 L999.3,264.0 L998.6,270.0 L999.2,276.0 L999.4,282.0 L999.6,288.0 L999.8,294.0 L1000.0,300.0 L1000.5,306.2 L999.9,312.5 L999.9,318.8 L1000.5,325.0 L1000.6,331.2 L1001.1,337.5 L1001.2,343.7 L1001.0,350.0 L1001.1,356.2 L1001.2,362.5 L1000.7,368.8 L1001.3,375.0 L1001.4,381.2 L1000.6,387.5 L1001.0,393.8 L1001.0,400.0 L1001.2,406.7 L1000.6,413.3 L1000.9,420.0 L1000.3,426.7 L999.7,433.3 L1000.0,440.0 L999.0,446.6 L998.5,453.3 L998.0,460.0 L998.6,466.7 L999.0,473.3 L999.5,480.0 L999.4,486.7 L1000.1,493.3 L1000.5,500.0 L1000.4,506.3 L1000.9,512.5 L1001.2,518.7 L1000.8,525.0 L1000.8,531.3 L1001.0,537.5 L1001.2,543.8 L1001.6,550.0 L1001.2,556.2 L1001.1,562.5 L1001.4,568.8 L1001.0,575.0 L1001.0,581.3 L1001.2,587.5 L1001.1,593.8 L1000.5,600.0 L1000.5,606.7 L1000.4,613.3 L999.8,620.0 L999.4,626.7 L999.7,633.3 L999.5,640.0 L999.5,646.7 L999.8,653.4 L1000.1,660.0 L1001.0,666.7 L1001.5,673.3 L1001.6,680.0 L1002.5,690.0 L1005.7,701.4 L1005.7,701.4 L1000.0,696.0 L997.0,695.5 L995.0,695.0 L987.5,695.9 L980.0,696.2 L973.3,696.8 L966.7,697.0 L960.0,697.0 L953.3,696.6 L946.7,696.1 L940.0,696.2 L933.3,695.9 L926.7,696.3 L920.0,696.1 L913.3,696.0 L906.7,696.6 L900.0,696.2 L893.3,696.6 L886.6,697.0 L880.0,697.6 L873.3,698.2 L866.7,699.0 L860.0,699.5 L854.0,700.1 L848.0,699.9 L842.0,700.7 L836.0,700.6 L830.0,701.2 L824.0,701.2 L818.0,702.0 L812.0,702.4 L806.0,702.2 L800.0,703.0 L793.6,702.7 L787.2,703.1 L780.8,703.0 L774.4,702.9 L768.0,702.5 L760.0,702.5 L753.4,701.7 L746.7,701.4 L740.0,701.2 L730.0,699.5 L723.3,699.7 L716.7,699.0 L710.0,699.2 L703.3,699.1 L696.7,699.6 L690.0,700.0 L683.3,700.3 L676.7,700.2 L670.0,700.7 L663.3,700.9 L656.7,700.2 L650.0,700.8 L644.0,700.7 L638.0,700.9 L632.0,700.7 L626.0,701.2 L620.0,701.2 L612.5,701.3 L605.0,702.0 L598.4,700.9 L591.6,700.6 L585.0,699.5 L578.7,699.4 L572.5,699.1 L566.2,698.8 L560.0,698.2 L554.0,698.1 L548.0,698.4 L542.0,698.2 L536.0,698.4 L530.0,698.0 L523.9,698.5 L518.0,699.8 L512.0,700.5 L504.7,701.0 L497.3,701.4 L490.0,702.0 L484.0,701.8 L478.0,702.5 L472.0,702.2 L466.0,702.8 L460.0,703.0 L453.3,703.6 L446.7,704.3 L440.0,705.0 L433.3,705.6 L426.7,705.3 L420.0,705.7 L413.3,705.9 L406.7,705.4 L400.0,705.8 L394.0,705.9 L388.0,705.5 L382.0,705.1 L376.0,705.1 L370.0,705.0 L365.0,705.0 L360.0,702.5 L354.0,702.8 L348.0,702.8 L342.0,702.9 L336.0,702.8 L330.0,703.2 L322.5,702.6 L315.0,701.2 L307.5,702.1 L300.0,703.0 L294.0,703.4 L288.0,703.5 L282.0,703.2 L276.0,703.6 L270.0,703.8 L263.0,702.8 L256.0,702.0 L249.5,702.0 L243.0,702.1 L236.5,702.8 L230.0,703.0 L224.0,703.4 L218.0,704.0 L212.0,704.5 L206.0,704.8 L200.0,705.5 L193.8,705.7 L187.5,705.8 L181.3,706.1 L175.0,706.2 L168.8,705.4 L162.5,705.2 L156.3,704.6 L150.0,704.5 L143.8,703.5 L137.5,703.5 L131.3,702.6 L125.0,701.6 L118.8,701.1 L112.5,701.1 L106.2,700.5 L100.0,699.5 L93.7,699.1 L87.5,698.9 L81.2,698.2 L75.0,697.5 L70.0,698.0 L68.0,701.2 L60.0,703.0 L50.0,702.4 L43.5,703.5 L37.0,703.8 L29.0,705.0 L22.0,712.5 L24.0,702.4 L23.5,696.0 L17.0,700.0 L12.0,703.8 L16.6,697.2 L21.0,690.4 L23.8,680.0 L22.8,670.0 L22.5,664.0 L22.0,658.0 L20.8,652.0 L20.8,646.0 L20.0,640.0 L20.0,640.0 L20.5,633.3 L20.3,626.7 L21.3,620.0 L21.7,613.4 L21.3,606.7 L21.9,600.0 L22.4,593.8 L22.0,587.5 L22.2,581.2 L22.8,575.0 L22.8,568.8 L22.3,562.5 L22.6,556.2 L22.8,550.0 L22.7,543.7 L22.4,537.5 L22.2,531.3 L22.2,525.0 L22.4,518.7 L21.7,512.5 L22.1,506.2 L21.9,500.0 L21.8,493.8 L21.3,487.5 L21.6,481.3 L21.8,475.0 L21.6,468.7 L21.1,462.5 L21.9,456.2 L21.4,450.0 L21.7,443.8 L21.9,437.5 L21.2,431.2 L21.4,425.0 L21.3,418.7 L22.0,412.5 L21.6,406.2 L21.9,400.0 L21.7,393.3 L22.1,386.7 L22.7,380.0 L22.8,373.3 L22.4,366.7 L22.8,360.0 L22.5,353.7 L23.3,347.5 L23.0,341.3 L23.0,335.0 L22.6,328.7 L21.4,322.5 L20.8,316.3 L20.6,310.0 L20.6,304.0 L20.6,298.0 L20.8,292.0 L20.7,286.0 L20.9,279.4 L20.8,272.8 L21.8,266.3 L21.7,259.7 L22.1,253.2 L21.7,246.6 L22.3,240.0 L22.8,233.3 L22.2,226.7 L23.1,220.0 L22.9,213.3 L22.9,206.7 L23.2,200.0 L22.8,193.7 L22.7,187.5 L21.6,181.3 L21.0,175.0 L20.9,168.7 L20.2,162.5 L19.6,156.3 L19.5,150.0 L19.1,143.8 L18.9,137.5 L18.9,131.3 L18.9,125.0 L18.8,118.8 L19.1,112.5 L18.5,106.3 L18.6,100.0 L18.4,93.6 L18.0,87.2 L17.9,80.8 L17.4,74.4 L17.7,68.0 L17.5,60.8 L17.7,53.5 L23.5,53.5 L23.3,46.7 L24.0,40.0 L23.0,31.0 L21.2,26.2 Z" fill="none" stroke="#000" stroke-opacity="0.22" stroke-width="3.5" filter="url(#bl3)" transform="translate(1.8,0)"/>
<path d="M21.2,26.2 L25.0,32.3 L28.3,26.2 L34.4,31.6 L36.0,27.5 L41.2,31.1 L46.3,35.0 L49.7,29.3 L60.0,33.5 L65.9,35.0 L71.6,37.1 L82.0,37.6 L92.0,37.8 L98.9,35.0 L109.9,33.3 L116.7,34.2 L123.5,34.8 L133.1,34.8 L137.2,32.6 L141.3,33.4 L145.0,34.6 L152.5,34.8 L160.0,35.8 L170.0,33.9 L176.7,33.8 L183.3,33.5 L190.0,33.5 L196.7,33.2 L203.3,33.8 L210.0,33.9 L217.5,33.1 L225.0,33.2 L231.7,33.6 L238.4,33.7 L245.0,34.6 L253.5,34.0 L262.0,34.2 L270.0,33.9 L276.0,33.2 L282.0,33.2 L288.0,33.7 L294.0,33.2 L300.0,33.3 L306.0,33.8 L312.0,34.2 L318.0,34.0 L324.0,33.9 L330.0,34.5 L336.0,33.8 L342.0,34.6 L348.0,34.2 L354.0,34.2 L360.0,34.2 L366.0,34.5 L372.0,35.1 L378.0,34.6 L384.0,35.1 L390.0,35.2 L396.0,35.1 L402.0,35.3 L408.0,35.0 L414.0,35.1 L420.0,35.3 L426.0,35.8 L432.0,35.7 L438.0,35.7 L444.0,36.0 L450.0,36.0 L456.0,36.0 L462.0,36.5 L468.0,36.5 L474.0,36.2 L480.0,36.6 L486.0,36.7 L492.0,37.1 L498.0,37.1 L504.0,36.8 L510.0,37.5 L516.0,36.8 L522.0,37.2 L528.0,37.6 L534.0,37.1 L540.0,37.5 L546.0,37.2 L552.0,37.9 L558.0,38.1 L564.0,38.0 L570.0,38.4 L576.0,38.0 L582.0,38.4 L588.0,38.4 L594.0,38.5 L600.0,38.5 L606.0,38.9 L612.0,39.1 L618.0,38.8 L624.0,39.1 L630.0,38.6 L636.0,39.3 L642.0,39.4 L648.0,39.8 L654.0,39.7 L660.0,39.3 L666.0,39.5 L672.0,39.9 L678.0,39.4 L684.0,39.9 L690.0,39.7 L696.0,39.8 L702.0,39.8 L708.0,40.5 L714.0,40.1 L720.0,40.3 L726.0,40.5 L732.0,41.0 L738.0,40.4 L744.0,40.9 L750.0,40.6 L756.0,40.3 L762.0,40.0 L768.0,40.2 L774.0,40.0 L780.0,39.5 L786.6,40.2 L793.3,40.1 L800.0,40.7 L806.0,40.5 L812.0,40.4 L818.0,40.7 L824.0,40.7 L830.0,40.2 L836.0,38.5 L843.0,36.7 L851.5,37.3 L860.0,38.6 L866.0,38.6 L872.0,39.0 L878.0,39.3 L884.0,39.9 L890.0,40.2 L896.7,40.8 L903.4,41.1 L910.0,41.9 L917.5,41.0 L925.0,40.9 L935.0,40.2 L942.5,41.0 L950.0,41.9 L957.5,42.5 L965.0,43.3 L975.0,41.9 L983.0,40.3 L990.2,35.1 L997.4,29.8 L996.8,36.4 L1001.7,31.7 L1006.0,26.5 L1006.7,30.4 L1012.0,25.4 L1006.0,32.0 L1002.6,39.1 L999.6,46.3 L1007.8,46.3 L1004.8,55.0 L1003.0,62.0 L1003.0,62.0 L1002.7,68.0 L1002.4,74.0 L1002.2,80.0 L1001.8,86.7 L1002.1,93.3 L1001.5,100.0 L1001.3,106.0 L1001.5,112.0 L1001.6,118.0 L1001.8,124.0 L1002.2,130.0 L1002.4,136.0 L1002.5,142.0 L1002.8,148.0 L1002.4,154.0 L1002.6,160.0 L1002.8,166.7 L1002.6,173.3 L1002.3,180.0 L1002.2,186.7 L1001.8,193.3 L1001.5,200.0 L1001.7,206.7 L1001.4,213.4 L1001.1,220.0 L1000.9,226.7 L1000.4,233.3 L1000.0,240.0 L1000.9,246.0 L1001.0,252.0 L999.9,258.0 L999.3,264.0 L998.6,270.0 L999.2,276.0 L999.4,282.0 L999.6,288.0 L999.8,294.0 L1000.0,300.0 L1000.5,306.2 L999.9,312.5 L999.9,318.8 L1000.5,325.0 L1000.6,331.2 L1001.1,337.5 L1001.2,343.7 L1001.0,350.0 L1001.1,356.2 L1001.2,362.5 L1000.7,368.8 L1001.3,375.0 L1001.4,381.2 L1000.6,387.5 L1001.0,393.8 L1001.0,400.0 L1001.2,406.7 L1000.6,413.3 L1000.9,420.0 L1000.3,426.7 L999.7,433.3 L1000.0,440.0 L999.0,446.6 L998.5,453.3 L998.0,460.0 L998.6,466.7 L999.0,473.3 L999.5,480.0 L999.4,486.7 L1000.1,493.3 L1000.5,500.0 L1000.4,506.3 L1000.9,512.5 L1001.2,518.7 L1000.8,525.0 L1000.8,531.3 L1001.0,537.5 L1001.2,543.8 L1001.6,550.0 L1001.2,556.2 L1001.1,562.5 L1001.4,568.8 L1001.0,575.0 L1001.0,581.3 L1001.2,587.5 L1001.1,593.8 L1000.5,600.0 L1000.5,606.7 L1000.4,613.3 L999.8,620.0 L999.4,626.7 L999.7,633.3 L999.5,640.0 L999.5,646.7 L999.8,653.4 L1000.1,660.0 L1001.0,666.7 L1001.5,673.3 L1001.6,680.0 L1002.5,690.0 L1005.7,701.4 L1005.7,701.4 L1000.0,696.0 L997.0,695.5 L995.0,695.0 L987.5,695.9 L980.0,696.2 L973.3,696.8 L966.7,697.0 L960.0,697.0 L953.3,696.6 L946.7,696.1 L940.0,696.2 L933.3,695.9 L926.7,696.3 L920.0,696.1 L913.3,696.0 L906.7,696.6 L900.0,696.2 L893.3,696.6 L886.6,697.0 L880.0,697.6 L873.3,698.2 L866.7,699.0 L860.0,699.5 L854.0,700.1 L848.0,699.9 L842.0,700.7 L836.0,700.6 L830.0,701.2 L824.0,701.2 L818.0,702.0 L812.0,702.4 L806.0,702.2 L800.0,703.0 L793.6,702.7 L787.2,703.1 L780.8,703.0 L774.4,702.9 L768.0,702.5 L760.0,702.5 L753.4,701.7 L746.7,701.4 L740.0,701.2 L730.0,699.5 L723.3,699.7 L716.7,699.0 L710.0,699.2 L703.3,699.1 L696.7,699.6 L690.0,700.0 L683.3,700.3 L676.7,700.2 L670.0,700.7 L663.3,700.9 L656.7,700.2 L650.0,700.8 L644.0,700.7 L638.0,700.9 L632.0,700.7 L626.0,701.2 L620.0,701.2 L612.5,701.3 L605.0,702.0 L598.4,700.9 L591.6,700.6 L585.0,699.5 L578.7,699.4 L572.5,699.1 L566.2,698.8 L560.0,698.2 L554.0,698.1 L548.0,698.4 L542.0,698.2 L536.0,698.4 L530.0,698.0 L523.9,698.5 L518.0,699.8 L512.0,700.5 L504.7,701.0 L497.3,701.4 L490.0,702.0 L484.0,701.8 L478.0,702.5 L472.0,702.2 L466.0,702.8 L460.0,703.0 L453.3,703.6 L446.7,704.3 L440.0,705.0 L433.3,705.6 L426.7,705.3 L420.0,705.7 L413.3,705.9 L406.7,705.4 L400.0,705.8 L394.0,705.9 L388.0,705.5 L382.0,705.1 L376.0,705.1 L370.0,705.0 L365.0,705.0 L360.0,702.5 L354.0,702.8 L348.0,702.8 L342.0,702.9 L336.0,702.8 L330.0,703.2 L322.5,702.6 L315.0,701.2 L307.5,702.1 L300.0,703.0 L294.0,703.4 L288.0,703.5 L282.0,703.2 L276.0,703.6 L270.0,703.8 L263.0,702.8 L256.0,702.0 L249.5,702.0 L243.0,702.1 L236.5,702.8 L230.0,703.0 L224.0,703.4 L218.0,704.0 L212.0,704.5 L206.0,704.8 L200.0,705.5 L193.8,705.7 L187.5,705.8 L181.3,706.1 L175.0,706.2 L168.8,705.4 L162.5,705.2 L156.3,704.6 L150.0,704.5 L143.8,703.5 L137.5,703.5 L131.3,702.6 L125.0,701.6 L118.8,701.1 L112.5,701.1 L106.2,700.5 L100.0,699.5 L93.7,699.1 L87.5,698.9 L81.2,698.2 L75.0,697.5 L70.0,698.0 L68.0,701.2 L60.0,703.0 L50.0,702.4 L43.5,703.5 L37.0,703.8 L29.0,705.0 L22.0,712.5 L24.0,702.4 L23.5,696.0 L17.0,700.0 L12.0,703.8 L16.6,697.2 L21.0,690.4 L23.8,680.0 L22.8,670.0 L22.5,664.0 L22.0,658.0 L20.8,652.0 L20.8,646.0 L20.0,640.0 L20.0,640.0 L20.5,633.3 L20.3,626.7 L21.3,620.0 L21.7,613.4 L21.3,606.7 L21.9,600.0 L22.4,593.8 L22.0,587.5 L22.2,581.2 L22.8,575.0 L22.8,568.8 L22.3,562.5 L22.6,556.2 L22.8,550.0 L22.7,543.7 L22.4,537.5 L22.2,531.3 L22.2,525.0 L22.4,518.7 L21.7,512.5 L22.1,506.2 L21.9,500.0 L21.8,493.8 L21.3,487.5 L21.6,481.3 L21.8,475.0 L21.6,468.7 L21.1,462.5 L21.9,456.2 L21.4,450.0 L21.7,443.8 L21.9,437.5 L21.2,431.2 L21.4,425.0 L21.3,418.7 L22.0,412.5 L21.6,406.2 L21.9,400.0 L21.7,393.3 L22.1,386.7 L22.7,380.0 L22.8,373.3 L22.4,366.7 L22.8,360.0 L22.5,353.7 L23.3,347.5 L23.0,341.3 L23.0,335.0 L22.6,328.7 L21.4,322.5 L20.8,316.3 L20.6,310.0 L20.6,304.0 L20.6,298.0 L20.8,292.0 L20.7,286.0 L20.9,279.4 L20.8,272.8 L21.8,266.3 L21.7,259.7 L22.1,253.2 L21.7,246.6 L22.3,240.0 L22.8,233.3 L22.2,226.7 L23.1,220.0 L22.9,213.3 L22.9,206.7 L23.2,200.0 L22.8,193.7 L22.7,187.5 L21.6,181.3 L21.0,175.0 L20.9,168.7 L20.2,162.5 L19.6,156.3 L19.5,150.0 L19.1,143.8 L18.9,137.5 L18.9,131.3 L18.9,125.0 L18.8,118.8 L19.1,112.5 L18.5,106.3 L18.6,100.0 L18.4,93.6 L18.0,87.2 L17.9,80.8 L17.4,74.4 L17.7,68.0 L17.5,60.8 L17.7,53.5 L23.5,53.5 L23.3,46.7 L24.0,40.0 L23.0,31.0 L21.2,26.2 Z" fill="none" stroke="#111" stroke-width="2.2" stroke-linejoin="round"/>
<rect x="16" y="286.8" width="4.7" height="22.5" fill="#ededed"/><rect x="20.7" y="286.8" width="1.8" height="22.5" fill="#e6e6e6"/>
<path d="M17,293.4 L20.4,295.9" stroke="#333" stroke-width="0.8"/><path d="M17.1,300.8 L20.4,303.6" stroke="#111" stroke-width="1.4"/>
<g>
<rect x="286" y="25" width="458" height="57" fill="#d4d4d4" stroke="#222" stroke-width="1.1"/>
<rect x="287" y="31.5" width="448" height="44.5" fill="#ebebeb" stroke="#3a3a3a" stroke-width="0.8"/>
<rect x="502" y="25.5" width="19.5" height="56" fill="#000" opacity="0.07"/>
<rect x="742" y="25" width="2.6" height="57" fill="#1a1a1a"/>
<path d="M744,46.4 C753,46 754,58 744,60.1" fill="none" stroke="#222" stroke-width="1.2"/>
<path d="M725,81.6 C728,88 740,88 748,84.5" fill="none" stroke="#222" stroke-width="1.1"/>
<ellipse cx="748.5" cy="84.5" rx="2.2" ry="1.5" fill="#333"/>
<rect x="279.3" y="17.5" width="5.8" height="8" rx="2.5" fill="#222"/>
<rect x="275" y="21" width="14" height="57" rx="5" fill="#353535" stroke="#1a1a1a" stroke-width="1"/>
<ellipse cx="282" cy="77" rx="7" ry="4.5" fill="#ddd" stroke="#333" stroke-width="1"/>
<ellipse cx="282" cy="77" rx="4" ry="2.8" fill="#f4f4f4" stroke="#777" stroke-width="0.6"/>
<rect x="279.3" y="76" width="5.8" height="10.5" rx="2.5" fill="#222"/>
</g>
<text x="370.9" y="60.8" font-size="16.0" fill="#1a1a1a" stroke="#1a1a1a" stroke-width="0.18" textLength="16.2" lengthAdjust="spacingAndGlyphs" font-weight="bold">一</text><text x="391.0" y="60.8" font-size="16.0" fill="#1a1a1a" stroke="#1a1a1a" stroke-width="0.18" textLength="16.2" lengthAdjust="spacingAndGlyphs" font-weight="bold">族</text><text x="411.1" y="60.8" font-size="16.0" fill="#1a1a1a" stroke="#1a1a1a" stroke-width="0.18" textLength="16.2" lengthAdjust="spacingAndGlyphs" font-weight="bold">家</text><text x="431.2" y="60.8" font-size="16.0" fill="#1a1a1a" stroke="#1a1a1a" stroke-width="0.18" textLength="16.2" lengthAdjust="spacingAndGlyphs" font-weight="bold">系</text><text x="451.3" y="60.8" font-size="16.0" fill="#1a1a1a" stroke="#1a1a1a" stroke-width="0.18" textLength="16.2" lengthAdjust="spacingAndGlyphs" font-weight="bold">図</text><text x="555.5" y="60.8" font-size="16.0" fill="#1a1a1a" stroke="#1a1a1a" stroke-width="0.18" textLength="16.4" lengthAdjust="spacingAndGlyphs" font-weight="bold">兼</text><text x="576.0" y="60.8" font-size="16.0" fill="#1a1a1a" stroke="#1a1a1a" stroke-width="0.18" textLength="16.4" lengthAdjust="spacingAndGlyphs" font-weight="bold">も</text><text x="596.5" y="60.8" font-size="16.0" fill="#1a1a1a" stroke="#1a1a1a" stroke-width="0.18" textLength="16.4" lengthAdjust="spacingAndGlyphs" font-weight="bold">く</text><text x="617.0" y="60.8" font-size="16.0" fill="#1a1a1a" stroke="#1a1a1a" stroke-width="0.18" textLength="16.4" lengthAdjust="spacingAndGlyphs" font-weight="bold">じ</text><polyline points="71.5,386 71.5,92.5 436.5,92.5 436.5,100" fill="none" stroke="#545454" stroke-width="1.2" stroke-linejoin="miter" stroke-linecap="square"/><rect x="466" y="128.9" width="110" height="3.6" fill="#c4c4c4"/><line x1="466" y1="129.55" x2="576" y2="129.55" stroke="#262626" stroke-width="1.3"/><line x1="466" y1="131.9" x2="576" y2="131.9" stroke="#3a3a3a" stroke-width="1.35"/><line x1="472.5" y1="132.1" x2="472.5" y2="168.5" stroke="#545454" stroke-width="1.2"/><line x1="345" y1="168.5" x2="739" y2="168.5" stroke="#545454" stroke-width="1.2"/><line x1="345.5" y1="168.5" x2="345.5" y2="250" stroke="#545454" stroke-width="1.2"/><line x1="437.5" y1="168.5" x2="437.5" y2="250" stroke="#545454" stroke-width="1.2"/><line x1="586.5" y1="168.5" x2="586.5" y2="172" stroke="#545454" stroke-width="1.2"/><line x1="739.5" y1="168.5" x2="739.5" y2="180.5" stroke="#545454" stroke-width="1.2"/><rect x="282" y="267.7" width="58" height="3.6" fill="#c4c4c4"/><line x1="282" y1="268.34999999999997" x2="340" y2="268.34999999999997" stroke="#262626" stroke-width="1.3"/><line x1="282" y1="270.7" x2="340" y2="270.7" stroke="#3a3a3a" stroke-width="1.35"/><rect x="395" y="267.7" width="37" height="3.6" fill="#c4c4c4"/><line x1="395" y1="268.34999999999997" x2="432" y2="268.34999999999997" stroke="#262626" stroke-width="1.3"/><line x1="395" y1="270.7" x2="432" y2="270.7" stroke="#3a3a3a" stroke-width="1.35"/><polyline points="305.5,270.7 305.5,345.6" fill="none" stroke="#545454" stroke-width="1.2" stroke-linejoin="miter" stroke-linecap="square"/><polyline points="253.5,349 253.5,345.5 345.5,345.5 345.5,365" fill="none" stroke="#545454" stroke-width="1.2" stroke-linejoin="miter" stroke-linecap="square"/><rect x="616" y="268.0" width="17" height="3.6" fill="#c4c4c4"/><line x1="616" y1="268.65" x2="633" y2="268.65" stroke="#262626" stroke-width="1.3"/><line x1="616" y1="271.0" x2="633" y2="271.0" stroke="#3a3a3a" stroke-width="1.35"/><polyline points="624.5,270.5 624.5,345.5" fill="none" stroke="#545454" stroke-width="1.2" stroke-linejoin="miter" stroke-linecap="square"/><polyline points="586.5,348.3 586.5,345.5 662.5,345.5 662.5,367" fill="none" stroke="#545454" stroke-width="1.2" stroke-linejoin="miter" stroke-linecap="square"/><rect x="770" y="268.0" width="30" height="3.6" fill="#c4c4c4"/><line x1="770" y1="268.65" x2="800" y2="268.65" stroke="#262626" stroke-width="1.3"/><line x1="770" y1="271.0" x2="800" y2="271.0" stroke="#3a3a3a" stroke-width="1.35"/><polyline points="781.5,270.9 781.5,355.5" fill="none" stroke="#545454" stroke-width="1.2" stroke-linejoin="miter" stroke-linecap="square"/><polyline points="814.5,250 814.5,168.5 873.5,168.5 873.5,250" fill="none" stroke="#545454" stroke-width="1.2" stroke-linejoin="miter" stroke-linecap="square"/><rect x="890" y="268.6" width="30" height="3.6" fill="#c4c4c4"/><line x1="890" y1="269.25" x2="920" y2="269.25" stroke="#262626" stroke-width="1.3"/><line x1="890" y1="271.6" x2="920" y2="271.6" stroke="#3a3a3a" stroke-width="1.35"/><polyline points="911.5,271.3 911.5,436" fill="none" stroke="#545454" stroke-width="1.2" stroke-linejoin="miter" stroke-linecap="square"/><rect x="192" y="451.45" width="32" height="3.6" fill="#c4c4c4"/><line x1="192" y1="452.09999999999997" x2="224" y2="452.09999999999997" stroke="#262626" stroke-width="1.3"/><line x1="192" y1="454.45" x2="224" y2="454.45" stroke="#3a3a3a" stroke-width="1.35"/><polyline points="208.5,454.8 208.5,529" fill="none" stroke="#545454" stroke-width="1.2" stroke-linejoin="miter" stroke-linecap="square"/><polyline points="162.5,555.5 162.5,529.5 254.5,529.5 254.5,540.8" fill="none" stroke="#545454" stroke-width="1.2" stroke-linejoin="miter" stroke-linecap="square"/><rect x="375" y="452.0" width="57" height="3.6" fill="#c4c4c4"/><line x1="375" y1="452.65" x2="432" y2="452.65" stroke="#262626" stroke-width="1.3"/><line x1="375" y1="455.0" x2="432" y2="455.0" stroke="#3a3a3a" stroke-width="1.35"/><polyline points="391.5,454.9 391.5,529" fill="none" stroke="#545454" stroke-width="1.2" stroke-linejoin="miter" stroke-linecap="square"/><polyline points="345.5,541 345.5,529.5 437.5,529.5 437.5,541" fill="none" stroke="#545454" stroke-width="1.2" stroke-linejoin="miter" stroke-linecap="square"/><rect x="806" y="450.8" width="20" height="3.6" fill="#c4c4c4"/><line x1="806" y1="451.45" x2="826" y2="451.45" stroke="#262626" stroke-width="1.3"/><line x1="806" y1="453.8" x2="826" y2="453.8" stroke="#3a3a3a" stroke-width="1.35"/><path d="M55.30,132.80 L66.37,132.80 A10.3,10.3 0 1 1 75.63,132.80 L86.70,132.80 Q89.30,132.80 89.30,135.40 L89.30,143.80 Q89.30,146.40 86.70,146.40 L55.30,146.40 Q52.70,146.40 52.70,143.80 L52.70,135.40 Q52.70,132.80 55.30,132.80 Z" fill="#fff" stroke="#3a3a3a" stroke-width="1.25" stroke-linejoin="miter"/><path d="M55.30,269.80 L66.37,269.80 A10.3,10.3 0 1 1 75.63,269.80 L86.70,269.80 Q89.30,269.80 89.30,272.40 L89.30,280.80 Q89.30,283.40 86.70,283.40 L55.30,283.40 Q52.70,283.40 52.70,280.80 L52.70,272.40 Q52.70,269.80 55.30,269.80 Z" fill="#fff" stroke="#3a3a3a" stroke-width="1.25" stroke-linejoin="miter"/><path d="M567.30,132.80 L578.37,132.80 A10.3,10.3 0 1 1 587.63,132.80 L598.70,132.80 Q601.30,132.80 601.30,135.40 L601.30,143.80 Q601.30,146.40 598.70,146.40 L567.30,146.40 Q564.70,146.40 564.70,143.80 L564.70,135.40 Q564.70,132.80 567.30,132.80 Z" fill="#fff" stroke="#3a3a3a" stroke-width="1.25" stroke-linejoin="miter"/><path d="M329.50,269.80 L340.57,269.80 A10.3,10.3 0 1 1 349.83,269.80 L360.90,269.80 Q363.50,269.80 363.50,272.40 L363.50,280.80 Q363.50,283.40 360.90,283.40 L329.50,283.40 Q326.90,283.40 326.90,280.80 L326.90,272.40 Q326.90,269.80 329.50,269.80 Z" fill="#fff" stroke="#3a3a3a" stroke-width="1.25" stroke-linejoin="miter"/><path d="M376.00,269.80 L387.07,269.80 A10.3,10.3 0 1 1 396.33,269.80 L407.40,269.80 Q410.00,269.80 410.00,272.40 L410.00,280.80 Q410.00,283.40 407.40,283.40 L376.00,283.40 Q373.40,283.40 373.40,280.80 L373.40,272.40 Q373.40,269.80 376.00,269.80 Z" fill="#fff" stroke="#3a3a3a" stroke-width="1.25" stroke-linejoin="miter"/><path d="M421.40,269.80 L432.47,269.80 A10.3,10.3 0 1 1 441.73,269.80 L452.80,269.80 Q455.40,269.80 455.40,272.40 L455.40,280.80 Q455.40,283.40 452.80,283.40 L421.40,283.40 Q418.80,283.40 418.80,280.80 L418.80,272.40 Q418.80,269.80 421.40,269.80 Z" fill="#fff" stroke="#3a3a3a" stroke-width="1.25" stroke-linejoin="miter"/><path d="M421.10,455.60 L432.17,455.60 A10.3,10.3 0 1 1 441.43,455.60 L452.50,455.60 Q455.10,455.60 455.10,458.20 L455.10,466.60 Q455.10,469.20 452.50,469.20 L421.10,469.20 Q418.50,469.20 418.50,466.60 L418.50,458.20 Q418.50,455.60 421.10,455.60 Z" fill="#fff" stroke="#3a3a3a" stroke-width="1.25" stroke-linejoin="miter"/><path d="M855.00,620.30 L866.07,620.30 A10.3,10.3 0 1 1 875.33,620.30 L886.40,620.30 Q889.00,620.30 889.00,622.90 L889.00,631.30 Q889.00,633.90 886.40,633.90 L855.00,633.90 Q852.40,633.90 852.40,631.30 L852.40,622.90 Q852.40,620.30 855.00,620.30 Z" fill="#fff" stroke="#3a3a3a" stroke-width="1.25" stroke-linejoin="miter"/><path d="M799.00,269.20 L810.07,269.20 A10.3,10.3 0 1 1 819.33,269.20 L830.40,269.20 Q833.00,269.20 833.00,271.80 L833.00,280.20 Q833.00,282.80 830.40,282.80 L799.00,282.80 Q796.40,282.80 796.40,280.20 L796.40,271.80 Q796.40,269.20 799.00,269.20 Z" fill="#acacac" stroke="#3a3a3a" stroke-width="1.25" stroke-linejoin="miter"/><text x="809.2" y="264.3" font-size="12" fill="#3a3a3a" textLength="11" lengthAdjust="spacingAndGlyphs">ゆ</text><path d="M858.00,269.20 L869.07,269.20 A10.3,10.3 0 1 1 878.33,269.20 L889.40,269.20 Q892.00,269.20 892.00,271.80 L892.00,280.20 Q892.00,282.80 889.40,282.80 L858.00,282.80 Q855.40,282.80 855.40,280.20 L855.40,271.80 Q855.40,269.20 858.00,269.20 Z" fill="#acacac" stroke="#3a3a3a" stroke-width="1.25" stroke-linejoin="miter"/><text x="868.2" y="264.3" font-size="12" fill="#3a3a3a" textLength="11" lengthAdjust="spacingAndGlyphs">ま</text><path d="M895.60,455.40 L906.67,455.40 A10.3,10.3 0 1 1 915.93,455.40 L927.00,455.40 Q929.60,455.40 929.60,458.00 L929.60,466.40 Q929.60,469.00 927.00,469.00 L895.60,469.00 Q893.00,469.00 893.00,466.40 L893.00,458.00 Q893.00,455.40 895.60,455.40 Z" fill="#acacac" stroke="#3a3a3a" stroke-width="1.25" stroke-linejoin="miter"/><text x="905.8" y="450.5" font-size="12" fill="#3a3a3a" textLength="11" lengthAdjust="spacingAndGlyphs">み</text><path d="M855.00,659.10 L866.07,659.10 A10.3,10.3 0 1 1 875.33,659.10 L886.40,659.10 Q889.00,659.10 889.00,661.70 L889.00,670.10 Q889.00,672.70 886.40,672.70 L855.00,672.70 Q852.40,672.70 852.40,670.10 L852.40,661.70 Q852.40,659.10 855.00,659.10 Z" fill="#acacac" stroke="#3a3a3a" stroke-width="1.25" stroke-linejoin="miter"/><circle cx="436.4" cy="129.9" r="31" fill="#fff"/><g transform="translate(436.4,129.9)"><clipPath id="coba"><circle r="29.0"/></clipPath><g clip-path="url(#coba)"><path d="M-28.5,-2 C-24,-8 -20,-10 -15,-10 C-12,-9 -10,-6 -7,-2 C-3,-4 3,-6 8,-8" fill="none" stroke="#1a1a1a" stroke-width="1.2"/>
<path d="M-3,-3 L-2,-7 M0,-3 L1,-8 M3,-4 L3.5,-8 M6,-5 L6,-9" stroke="#1a1a1a" stroke-width="1"/>
<path d="M7,-11 C7,-17 11,-21 17,-21.5 C20,-21 21,-19 20,-16 M7,-11 C8,-13 9,-16 10,-19" fill="none" stroke="#111" stroke-width="2.2"/>
<circle cx="17" cy="-13.6" r="1.6" fill="none" stroke="#222" stroke-width="1"/>
<circle cx="-20.6" cy="1.2" r="2" fill="#111"/><circle cx="11.6" cy="3.7" r="2.6" fill="#111"/><circle cx="-8.2" cy="11.6" r="2.1" fill="#111"/><circle cx="4.2" cy="12.6" r="1.9" fill="#111"/>
<path d="M1,18.6 C5,18 9,17 12,15" fill="none" stroke="#111" stroke-width="1.6"/>
<path d="M-26.5,9.6 C-22,14 -19,18 -16.6,19.5 C-13,22 -10,24 -7.7,26.5" fill="none" stroke="#222" stroke-width="1"/>
<path d="M-4,26 C4,24 12,23 19,21" fill="none" stroke="#222" stroke-width="1"/>
<path d="M17,-4 C19,4 19,12 16,20 M21,-2 L23,14 M24,6 L20,16 M23,12 L18,22" fill="none" stroke="#222" stroke-width="0.9"/>
<path d="M-22,24 L-18,28 M-14,26 L-12,30" stroke="#222" stroke-width="0.9"/></g></g><circle cx="436.4" cy="129.9" r="30.2" fill="none" stroke="#fff" stroke-width="1.2"/><circle cx="436.4" cy="129.9" r="31.6" fill="none" stroke="#111" stroke-width="2.1"/><circle cx="436.4" cy="129.9" r="29.3" fill="none" stroke="#6a6a6a" stroke-width="0.9"/><circle cx="251.4" cy="266.5" r="31" fill="#fff"/><g transform="translate(251.4,266.5)"><clipPath id="cgari"><circle r="29.0"/></clipPath><g clip-path="url(#cgari)"><rect x="-30" y="-30" width="60" height="60" fill="#f2f2f2"/>
<rect x="-6" y="-30" width="10" height="60" fill="#cfcfcf"/><rect x="-2" y="-30" width="2.5" height="60" fill="#8a8a8a"/><rect x="5" y="-30" width="1.5" height="60" fill="#bbb"/>
<rect x="8" y="-30" width="22" height="60" fill="#fff"/>
<path d="M-26,-2 L-6,-2 M-26,10 L-6,10 M-26,22 L-6,22" stroke="#777" stroke-width="0.9"/>
<path d="M-22,-6 C-20,-14 -12,-16 -9,-6" fill="none" stroke="#555" stroke-width="0.9"/>
<circle cx="-8" cy="3" r="1.6" fill="none" stroke="#555" stroke-width="0.8"/><circle cx="-8" cy="8" r="1.4" fill="none" stroke="#555" stroke-width="0.8"/>
<path d="M-5,14 L5,10 L5,30 L-8,30 Z" fill="#4a4a4a"/>
<path d="M12,-22 L12,18 M15,-24 L15,20 M18,-20 L18,22 M21,-18 L21,18" stroke="#999" stroke-width="0.9" stroke-dasharray="1.5,1"/></g></g><circle cx="251.4" cy="266.5" r="30.2" fill="none" stroke="#fff" stroke-width="1.2"/><circle cx="251.4" cy="266.5" r="31.6" fill="none" stroke="#111" stroke-width="2.1"/><circle cx="251.4" cy="266.5" r="29.3" fill="none" stroke="#6a6a6a" stroke-width="0.9"/><circle cx="586.4" cy="266.8" r="31" fill="#fff"/><g transform="translate(586.4,266.8)"><clipPath id="cnaka"><circle r="29.0"/></clipPath><g clip-path="url(#cnaka)"><path d="M-15,30 C-17,8 -16,-14 -10,-22 C-4,-28 6,-26 8,-18 C10,-8 12,10 10,30" fill="none" stroke="#222" stroke-width="1.1" stroke-linecap="round"/>
<circle cx="-2" cy="-8" r="4" fill="none" stroke="#222" stroke-width="1.1" stroke-linecap="round"/><circle cx="7" cy="-8" r="4" fill="none" stroke="#222" stroke-width="1.1" stroke-linecap="round"/>
<path d="M10,-4 C18,-4 20,6 14,12" fill="none" stroke="#222" stroke-width="1.1" stroke-linecap="round"/>
<path d="M-24,-4 L-24,2 M-21,-6 L-21,0" fill="none" stroke="#222" stroke-width="1.1" stroke-linecap="round"/>
<path d="M-25,18 C-20,14 -16,16 -15,20" fill="none" stroke="#222" stroke-width="1.1" stroke-linecap="round"/>
<path d="M2,14 C4,16 6,16 7,14" fill="none" stroke="#222" stroke-width="1.1" stroke-linecap="round"/><path d="M1,2 L3,6" fill="none" stroke="#222" stroke-width="1.1" stroke-linecap="round"/></g></g><circle cx="586.4" cy="266.8" r="30.2" fill="none" stroke="#fff" stroke-width="1.2"/><circle cx="586.4" cy="266.8" r="31.6" fill="none" stroke="#111" stroke-width="2.1"/><circle cx="586.4" cy="266.8" r="29.3" fill="none" stroke="#6a6a6a" stroke-width="0.9"/><circle cx="663" cy="266.4" r="31" fill="#fff"/><g transform="translate(663,266.4)"><clipPath id="cwarashi"><circle r="29.0"/></clipPath><g clip-path="url(#cwarashi)"><path d="M-26,-2 C-24,-14 -16,-18 -10,-14 C-6,-12 -4,-10 -2,-14 C-2,-24 8,-28 12,-22 C14,-18 12,-14 8,-12" fill="none" stroke="#222" stroke-width="1.1" stroke-linecap="round"/>
<path d="M-28,4 C-24,8 -22,12 -18,10" fill="none" stroke="#222" stroke-width="1.1" stroke-linecap="round"/>
<circle cx="-15" cy="-11" r="3" fill="#fff" stroke="#222" stroke-width="1.1"/><circle cx="-14.5" cy="-11" r="1.6" fill="#111"/>
<circle cx="5" cy="-21" r="3" fill="#fff" stroke="#222" stroke-width="1.1"/><circle cx="5.5" cy="-21" r="1.6" fill="#111"/>
<path d="M-6,-13 L-4,-7 L-2,-12" fill="none" stroke="#222" stroke-width="1"/>
<path d="M24,-14 C28,-6 28,2 26,6" fill="none" stroke="#222" stroke-width="1.1" stroke-linecap="round" stroke-width="0.8"/>
<path d="M-17.5,30 L-17.5,0 C-16,-9 -8,-13.5 1,-13.5 C11,-13.5 19,-8 23,0 L28,10 L28,19 L22,21 L14,26 L-10,30 Z" fill="#111"/>
<path d="M-12,6 L-8,3 L-6,-6 L-4,3 L-1,-8 L1,3 L5,1 L12,2 L20,5 L22,10 L22,18 L14,23 L0,26 L-10,27 L-12,18 Z" fill="#fff"/>
<path d="M-6,10 L0,13 M6,8 L13,7 M-2,21 L10,18" fill="none" stroke="#222" stroke-width="1.1" stroke-linecap="round"/>
<ellipse cx="16" cy="11" rx="3.2" ry="2" fill="#9a9a9a"/><ellipse cx="-8" cy="18" rx="3" ry="2" fill="#9a9a9a"/>
<circle cx="13" cy="-6" r="5.2" fill="#fff"/><circle cx="13" cy="-6" r="1.3" fill="#777"/>
<path d="M-18,28 L-6,24 L20,22 L28,24 L30,31 L-18,31 Z" fill="#a8a8a8"/>
<circle cx="-4" cy="28" r="2" fill="none" stroke="#444" stroke-width="0.7"/><circle cx="8" cy="27" r="2" fill="none" stroke="#444" stroke-width="0.7"/></g></g><circle cx="663" cy="266.4" r="30.2" fill="none" stroke="#fff" stroke-width="1.2"/><circle cx="663" cy="266.4" r="31.6" fill="none" stroke="#111" stroke-width="2.1"/><circle cx="663" cy="266.4" r="29.3" fill="none" stroke="#6a6a6a" stroke-width="0.9"/><circle cx="740" cy="266.9" r="31" fill="#fff"/><g transform="translate(740,266.9)"><clipPath id="cgoto"><circle r="29.0"/></clipPath><g clip-path="url(#cgoto)"><path d="M-30,-14 L-24,-20 L-16,-18 L-10,-14 L-2,-6 L10,2 L24,10 L22,20 L10,30 L-20,30 L-30,10 Z" fill="#dadada"/>
<path d="M-26,-6 C-20,-12 -12,-10 -8,-4 C-4,2 -10,8 -16,6 Z" fill="#c4c4c4"/>
<path d="M-16,-18 L-8,-22 L2,-25 L12,-25 L20,-20 L26,-10 L29,2 L28,10 Z" fill="#646464"/>
<path d="M4,-25 L12,-25 L16,-21 L6,-20 Z" fill="#eee"/>
<circle cx="-12" cy="-17" r="2.4" fill="#111"/><circle cx="-4" cy="-14" r="1.4" fill="#eee"/><circle cx="1" cy="-11" r="1.4" fill="#eee"/><circle cx="6" cy="-8" r="1.4" fill="#eee"/>
<path d="M-6,8 C-2,2 6,2 14,8 C20,14 20,22 12,28 L-8,30 L-12,22 Z" fill="#fafafa" stroke="#555" stroke-width="0.8"/>
<circle cx="-4" cy="14" r="2.4" fill="#666"/><circle cx="9" cy="11" r="2.4" fill="#666"/>
<path d="M-2,22 C2,20 6,21 8,24" fill="none" stroke="#333" stroke-width="1"/>
<path d="M-22,4 C-26,10 -22,16 -16,16" fill="none" stroke="#222" stroke-width="1.1" stroke-linecap="round" stroke-width="0.8"/>
<path d="M-20,-22 C-16,-26 -12,-28 -8,-26" fill="none" stroke="#222" stroke-width="1.1" stroke-linecap="round" stroke-width="0.8"/></g></g><circle cx="740" cy="266.9" r="30.2" fill="none" stroke="#fff" stroke-width="1.2"/><circle cx="740" cy="266.9" r="31.6" fill="none" stroke="#111" stroke-width="2.1"/><circle cx="740" cy="266.9" r="29.3" fill="none" stroke="#6a6a6a" stroke-width="0.9"/><circle cx="949.8" cy="266.6" r="31" fill="#fff"/><g transform="translate(949.8,266.6)"><clipPath id="cgon"><circle r="29.0"/></clipPath><g clip-path="url(#cgon)"><path d="M-10,-16 L-8,-22 L-5,-28 L0,-31 L31,-31 L31,31 L8,31 L7,25 L4,19 L3,14 L0,9 L-2,5 L-5,1 L-6,-3 L-8,-6 L-7,-10 Z" fill="#111"/>
<path d="M2,-29 C10,-21 19,-10 29,3" fill="none" stroke="#fff" stroke-width="4.6"/>
<path d="M-7,-6 C-12,-4 -15,-1 -17,2 L-22,6 L-18,8 L-20,12 L-16,14 L-18,18 L-12,22 L2,24" fill="none" stroke="#1a1a1a" stroke-width="1.1"/>
<path d="M-16,24 L-8,30 M-2,26 L6,31" fill="none" stroke="#222" stroke-width="0.9"/>
<path d="M-10,16 L-9,17 M-5,14 L-4,15 M-6,19 L-5,20 M0,17 L1,18 M-2,12 L-1,13 M-8,20 L-7,21" stroke="#333" stroke-width="1"/></g></g><circle cx="949.8" cy="266.6" r="30.2" fill="none" stroke="#fff" stroke-width="1.2"/><circle cx="949.8" cy="266.6" r="31.6" fill="none" stroke="#111" stroke-width="2.1"/><circle cx="949.8" cy="266.6" r="29.3" fill="none" stroke="#6a6a6a" stroke-width="0.9"/><circle cx="72.8" cy="451.9" r="31" fill="#fff"/><g transform="translate(72.8,451.9)"><clipPath id="cnono"><circle r="29.0"/></clipPath><g clip-path="url(#cnono)"><rect x="-31" y="-22" width="20" height="40" fill="#ececec"/>
<path d="M-12,-4 L-8,-18 L0,-25 L12,-25 L20,-20 L25,-9 L23,2 L18,5 L13,-3 L7,-9 L2,-14 L-2,-8 L-6,-4 Z" fill="#3c3c3c"/>
<path d="M2,-25 L12,-25 L17,-19 L8,-16 Z" fill="#6a6a6a"/>
<circle cx="15" cy="-12" r="0.8" fill="#ccc"/><circle cx="17" cy="-9" r="0.8" fill="#ccc"/><circle cx="14" cy="-8" r="0.8" fill="#ccc"/>
<circle cx="-12.5" cy="6.4" r="8" fill="#b8b8b8"/><circle cx="-12.5" cy="6.4" r="3" fill="#111"/>
<path d="M-29,14 L-20,12 L-14,20 L-12,31 L-29,31 Z" fill="#3a3a3a"/>
<path d="M-3,12 C0,17 6,17 8,12 Z" fill="#ccc" stroke="#333" stroke-width="0.8"/>
<circle cx="8" cy="-1" r="3.2" fill="none" stroke="#444" stroke-width="0.9"/><circle cx="8" cy="-1" r="1.3" fill="#555"/>
<path d="M-4,-1 C-2,-3 2,-3 4,-1" fill="none" stroke="#555" stroke-width="0.8"/>
<path d="M-8,22 C0,26 10,24 16,18" fill="none" stroke="#555" stroke-width="0.8"/></g></g><circle cx="72.8" cy="451.9" r="30.2" fill="none" stroke="#fff" stroke-width="1.2"/><circle cx="72.8" cy="451.9" r="31.6" fill="none" stroke="#111" stroke-width="2.1"/><circle cx="72.8" cy="451.9" r="29.3" fill="none" stroke="#6a6a6a" stroke-width="0.9"/><circle cx="162.4" cy="451.3" r="31" fill="#fff"/><g transform="translate(162.4,451.3)"><clipPath id="ckai"><circle r="29.0"/></clipPath><g clip-path="url(#ckai)"><path d="M-31,-31 L31,-31 L31,4 L27,6 L23,-3 L17,-6 L11,-5 L5,-8 L-3,-6 L-9,-8 L-15,-4 L-19,0 L-20,12 L-25,13 L-31,10 Z" fill="#111"/>
<circle cx="-3" cy="-16" r="6.2" fill="#fff" stroke="#333" stroke-width="0.8"/>
<circle cx="-5" cy="-16" r="1" fill="#111"/><circle cx="-1" cy="-16" r="1" fill="#111"/><path d="M-6,-13 L0,-13" stroke="#333" stroke-width="0.7"/>
<path d="M-16,5 C-12,2 -6,2 -3,5 M3,5 C6,2 12,2 16,4" fill="none" stroke="#111" stroke-width="2.2"/>
<path d="M-18,3 C-18,12 -4,12 -2,5 M2,5 C4,12 18,10 18,2 M-2,5 L2,5" fill="none" stroke="#444" stroke-width="0.8"/>
<path d="M-28,14 C-24,24 -16,28 -8,30 M20,18 L22,28" fill="none" stroke="#333" stroke-width="0.9"/>
<path d="M-2,20 L-1,21" stroke="#333" stroke-width="1"/></g></g><circle cx="162.4" cy="451.3" r="30.2" fill="none" stroke="#fff" stroke-width="1.2"/><circle cx="162.4" cy="451.3" r="31.6" fill="none" stroke="#111" stroke-width="2.1"/><circle cx="162.4" cy="451.3" r="29.3" fill="none" stroke="#6a6a6a" stroke-width="0.9"/><circle cx="253.9" cy="451.5" r="31" fill="#fff"/><g transform="translate(253.9,451.5)"><clipPath id="ceri"><circle r="29.0"/></clipPath><g clip-path="url(#ceri)"><path d="M-26,22 C-29,-4 -20,-20 -2,-21 C16,-21 27,-8 26,12 L22,16 L-20,24 Z" fill="#111"/>
<path d="M-17,2 C-17,-12 -8,-17 1,-17 C11,-17 18,-10 18,2 C18,16 10,27 0,28 C-10,28 -17,16 -17,2 Z" fill="#fff"/>
<circle cx="-9" cy="5" r="3.3" fill="#111"/><circle cx="4" cy="5" r="3.3" fill="#111"/>
<path d="M-13,-4 C-11,-8 -7,-8 -5,-5 M1,-5 C3,-8 8,-8 10,-4" fill="none" stroke="#333" stroke-width="0.8"/>
<path d="M-7,13 C-6,22 2,22 3,13 Z" fill="#fff" stroke="#222" stroke-width="1"/>
<path d="M-16,10 L-14,12 M-13,10 L-11,12 M9,10 L11,12 M12,10 L14,12" stroke="#666" stroke-width="0.7"/>
<path d="M-18,24 L8,30 L26,22 L26,31 L-18,31 Z" fill="#fff" stroke="#333" stroke-width="0.8"/></g></g><circle cx="253.9" cy="451.5" r="30.2" fill="none" stroke="#fff" stroke-width="1.2"/><circle cx="253.9" cy="451.5" r="31.6" fill="none" stroke="#111" stroke-width="2.1"/><circle cx="253.9" cy="451.5" r="29.3" fill="none" stroke="#6a6a6a" stroke-width="0.9"/><circle cx="345" cy="452" r="31" fill="#fff"/><g transform="translate(345,452)"><clipPath id="ctomo"><circle r="29.0"/></clipPath><g clip-path="url(#ctomo)"><path d="M-30,-6 L-24,-8 L-20,10 L-30,12 Z" fill="#d0d0d0"/>
<path d="M6,-30 L18,-20 L16,-12 L8,-18 Z" fill="#c8c8c8"/>
<path d="M-16,16 C-20,4 -18,-10 -8,-14 C2,-18 12,-14 16,-6" fill="none" stroke="#222" stroke-width="1.1" stroke-linecap="round" stroke-width="1"/>
<path d="M-22,-18 C-14,-26 0,-30 8,-28 M8,-28 C12,-16 16,-2 26,12 M4,-26 C8,-10 14,4 24,16" fill="none" stroke="#222" stroke-width="1.1" stroke-linecap="round" stroke-width="0.9"/>
<path d="M-24,20 C-22,10 -18,-2 -12,-10 M-14,-8 C-6,-10 2,-8 8,-6" fill="none" stroke="#222" stroke-width="1.1" stroke-linecap="round" stroke-width="0.9"/>
<path d="M-11,4 C-9,1 -6,1 -4,4 M5,4 C7,1 10,1 12,3" fill="none" stroke="#111" stroke-width="1.5"/>
<path d="M-1,10 L3,10 L1,13 Z" fill="#fff" stroke="#222" stroke-width="0.9"/>
<path d="M-16,16 C-12,22 -4,26 4,26 C12,24 18,18 20,12" fill="none" stroke="#222" stroke-width="1.1" stroke-linecap="round" stroke-width="0.9"/>
<path d="M-14,26 L-8,30 M6,28 L10,30" fill="none" stroke="#222" stroke-width="1.1" stroke-linecap="round" stroke-width="0.9"/></g></g><circle cx="345" cy="452" r="30.2" fill="none" stroke="#fff" stroke-width="1.2"/><circle cx="345" cy="452" r="31.6" fill="none" stroke="#111" stroke-width="2.1"/><circle cx="345" cy="452" r="29.3" fill="none" stroke="#6a6a6a" stroke-width="0.9"/><circle cx="588.3" cy="451.6" r="31" fill="#fff"/><g transform="translate(588.3,451.6)"><clipPath id="cchoko"><circle r="29.0"/></clipPath><g clip-path="url(#cchoko)"><rect x="-30" y="-30" width="60" height="60" fill="#c4c4c4"/>
<path d="M-30,-8 L-22,-8 L-16,12 L-22,30 L-30,30 Z" fill="#fff"/>
<path d="M-13,7 L7,7 L13,30 L-20,30 Z" fill="#b0b0b0"/>
<path d="M9,7 L20,4 L30,16 L30,30 L14,30 Z" fill="#fff"/>
<path d="M-26,-14 C-26,-22 -18,-22 -12,-18 L10,-20 C16,-24 24,-22 24,-14 C24,-8 18,-6 14,-8 L-16,-6 C-22,-4 -26,-8 -26,-14 Z" fill="#fff" stroke="#333" stroke-width="1"/>
<rect x="-16" y="-10" width="11" height="17" rx="4" fill="#fff" stroke="#333" stroke-width="1"/><rect x="-1" y="-13" width="11" height="18" rx="4" fill="#fff" stroke="#333" stroke-width="1"/>
<circle cx="-20" cy="-14" r="3" fill="none" stroke="#333" stroke-width="0.9"/><circle cx="17" cy="-15" r="3" fill="none" stroke="#333" stroke-width="0.9"/>
<path d="M22,22 C24,16 30,14 30,14" fill="none" stroke="#222" stroke-width="1.1" stroke-linecap="round"/></g></g><circle cx="588.3" cy="451.6" r="30.2" fill="none" stroke="#fff" stroke-width="1.2"/><circle cx="588.3" cy="451.6" r="31.6" fill="none" stroke="#111" stroke-width="2.1"/><circle cx="588.3" cy="451.6" r="29.3" fill="none" stroke="#6a6a6a" stroke-width="0.9"/><circle cx="662.65" cy="451.7" r="31" fill="#fff"/><g transform="translate(662.65,451.7)"><clipPath id="csuzu"><circle r="29.0"/></clipPath><g clip-path="url(#csuzu)"><path d="M-22,20 C-28,-4 -18,-22 2,-22 C20,-22 28,-6 24,14" fill="none" stroke="#222" stroke-width="1.1" stroke-linecap="round"/>
<path d="M-12,-4 C-8,-8 -4,-8 -2,-4 M4,-4 C8,-8 12,-8 14,-4" fill="none" stroke="#222" stroke-width="1.1" stroke-linecap="round"/>
<rect x="-14" y="-8" width="12" height="8" rx="3" fill="none" stroke="#333" stroke-width="0.9"/><rect x="3" y="-8" width="12" height="8" rx="3" fill="none" stroke="#333" stroke-width="0.9"/>
<path d="M-6,8 L6,8 L5,16 L-5,16 Z" fill="#111"/><rect x="-4" y="12" width="7" height="4" fill="#bbb"/>
<path d="M-26,18 C-16,22 -8,24 0,26" fill="none" stroke="#222" stroke-width="1.1" stroke-linecap="round"/></g></g><circle cx="662.65" cy="451.7" r="30.2" fill="none" stroke="#fff" stroke-width="1.2"/><circle cx="662.65" cy="451.7" r="31.6" fill="none" stroke="#111" stroke-width="2.1"/><circle cx="662.65" cy="451.7" r="29.3" fill="none" stroke="#6a6a6a" stroke-width="0.9"/><circle cx="776.6" cy="452.5" r="31" fill="#fff"/><g transform="translate(776.6,452.5)"><clipPath id="ckiri"><circle r="29.0"/></clipPath><g clip-path="url(#ckiri)"><rect x="-30" y="-30" width="60" height="60" fill="#bcbcbc"/>
<path d="M-16.1,-3.1 L-2.9,-12.6 L18.8,-12.6 L18.8,6.4 L5.9,16 L-16.1,16 Z" fill="#fff" stroke="#222" stroke-width="1"/>
<path d="M-16.1,-3.1 L5.9,-3.1 L18.8,-12.6 M5.9,-3.1 L5.9,16" fill="none" stroke="#222" stroke-width="1"/>
<circle cx="-9" cy="4" r="1.1" fill="#111"/><circle cx="-3" cy="13" r="1.1" fill="#111"/><circle cx="4" cy="-8" r="1.1" fill="#111"/>
<circle cx="9" cy="2" r="1" fill="#111"/><circle cx="15" cy="-4" r="1" fill="#111"/><circle cx="9" cy="8" r="1" fill="#111"/><circle cx="15" cy="2" r="1" fill="#111"/><circle cx="12" cy="11" r="1" fill="#111"/>
<path d="M-7.3,25.5 L17.6,15.2" stroke="#222" stroke-width="4.6" stroke-linecap="round"/><path d="M-6.5,25 L17,15.4" stroke="#fff" stroke-width="2.8" stroke-linecap="round"/>
<path d="M-20,-16 L-16,-19 M-14,-18 L-10,-20 M-8,-18 L-5,-21 M-3,-17 L0,-20 M3,-18 L6,-21" fill="none" stroke="#333" stroke-width="0.9"/></g></g><circle cx="776.6" cy="452.5" r="30.2" fill="none" stroke="#fff" stroke-width="1.2"/><circle cx="776.6" cy="452.5" r="31.6" fill="none" stroke="#111" stroke-width="2.1"/><circle cx="776.6" cy="452.5" r="29.3" fill="none" stroke="#6a6a6a" stroke-width="0.9"/><circle cx="855.5" cy="452.5" r="31" fill="#fff"/><g transform="translate(855.5,452.5)"><clipPath id="cchi"><circle r="29.0"/></clipPath><g clip-path="url(#cchi)"><path d="M-12,-30 L-8,-17 L4,-20 L0,-30 Z" fill="#e4e4e4" stroke="#444" stroke-width="0.8"/>
<path d="M3,-28 L6,-16 L20,-19 L16,-30 Z" fill="#e4e4e4" stroke="#444" stroke-width="0.8"/>
<path d="M-8,-26 L-7,-25 M-4,-23 L-3,-22 M8,-25 L9,-24 M12,-22 L13,-21" stroke="#555" stroke-width="1"/>
<path d="M19,-22 L26,-18 L22,-14 Z" fill="#111"/>
<path d="M-20,6 C-24,-6 -14,-14 -2,-16 C10,-16 20,-8 20,4 C16,0 12,4 8,0 C4,4 0,0 -4,4 C-8,0 -12,4 -16,2" fill="none" stroke="#222" stroke-width="1.1" stroke-linecap="round" stroke-width="0.9"/>
<path d="M-20,6 C-22,20 -8,26 2,24 C12,24 20,18 20,6" fill="none" stroke="#222" stroke-width="1.1" stroke-linecap="round" stroke-width="0.9"/>
<circle cx="-7" cy="8" r="1.7" fill="#111"/><circle cx="7" cy="10" r="1.7" fill="#111"/>
<ellipse cx="-13" cy="13" rx="4.5" ry="3.5" fill="#8a8a8a"/><ellipse cx="12" cy="14" rx="4.5" ry="3.5" fill="#8a8a8a"/>
<path d="M0,20 L3,28 L-1,28 Z" fill="#111"/>
<path d="M-24,28 L-18,18 M18,18 L24,28 M-28,4 C-24,2 -22,8 -24,12" fill="none" stroke="#222" stroke-width="1.1" stroke-linecap="round" stroke-width="0.9"/></g></g><circle cx="855.5" cy="452.5" r="30.2" fill="none" stroke="#fff" stroke-width="1.2"/><circle cx="855.5" cy="452.5" r="31.6" fill="none" stroke="#111" stroke-width="2.1"/><circle cx="855.5" cy="452.5" r="29.3" fill="none" stroke="#6a6a6a" stroke-width="0.9"/><circle cx="162.7" cy="625" r="31" fill="#fff"/><g transform="translate(162.7,625)"><clipPath id="charu"><circle r="29.0"/></clipPath><g clip-path="url(#charu)"><path d="M-20,10 C-24,-10 -12,-22 2,-22 C16,-22 24,-10 22,8 C18,20 8,24 -2,24 C-12,24 -18,18 -20,10 Z" fill="none" stroke="#222" stroke-width="1.1" stroke-linecap="round"/>
<path d="M-12,-2 C-10,-6 -6,-6 -4,-2 M6,-2 C8,-6 12,-6 14,-2" fill="none" stroke="#222" stroke-width="1.1" stroke-linecap="round" stroke-width="1.3"/>
<path d="M-4,8 C0,12 4,12 6,8" fill="none" stroke="#222" stroke-width="1.1" stroke-linecap="round" stroke-width="1.3"/>
<path d="M-18,-20 C-20,-26 -14,-26 -14,-20 M-2,-26 C-4,-30 2,-30 0,-24" fill="#888" stroke="#222" stroke-width="1"/>
<path d="M-28,-4 L-20,10 L-16,26 M24,-4 L28,10 L24,22" fill="none" stroke="#222" stroke-width="1.1" stroke-linecap="round"/></g></g><circle cx="162.7" cy="625" r="30.2" fill="none" stroke="#fff" stroke-width="1.2"/><circle cx="162.7" cy="625" r="31.6" fill="none" stroke="#111" stroke-width="2.1"/><circle cx="162.7" cy="625" r="29.3" fill="none" stroke="#6a6a6a" stroke-width="0.9"/><circle cx="253.85" cy="626.5" r="31" fill="#fff"/><g transform="translate(253.85,626.5)"><clipPath id="ckaoru"><circle r="29.0"/></clipPath><g clip-path="url(#ckaoru)"><path d="M-20,-28 C-24,0 -20,20 -14,30" fill="none" stroke="#222" stroke-width="1.1" stroke-linecap="round" stroke-width="0.7" stroke="#777"/>
<path d="M-10,-24 C14,-28 26,-10 22,14" fill="none" stroke="#222" stroke-width="1.1" stroke-linecap="round" stroke-width="0.7" stroke="#888"/>
<circle cx="-2" cy="2" r="8" fill="none" stroke="#222" stroke-width="1.1" stroke-linecap="round" stroke-width="0.8" stroke="#666"/><circle cx="7" cy="5" r="5" fill="none" stroke="#222" stroke-width="1.1" stroke-linecap="round" stroke-width="0.8" stroke="#666"/>
<rect x="18" y="-10" width="5" height="22" fill="#ccc"/>
<path d="M10,-26 L22,-18" stroke="#aaa" stroke-width="2"/></g></g><circle cx="253.85" cy="626.5" r="30.2" fill="none" stroke="#fff" stroke-width="1.2"/><circle cx="253.85" cy="626.5" r="31.6" fill="none" stroke="#111" stroke-width="2.1"/><circle cx="253.85" cy="626.5" r="29.3" fill="none" stroke="#6a6a6a" stroke-width="0.9"/><circle cx="345.3" cy="626.5" r="31" fill="#fff"/><g transform="translate(345.3,626.5)"><clipPath id="cako"><circle r="29.0"/></clipPath><g clip-path="url(#cako)"><rect x="-30" y="-30" width="60" height="60" fill="#f4f4f4"/>
<path d="M-26,-20 L-26,26 M24,-20 L24,26" stroke="#ccc" stroke-width="8" stroke-dasharray="2,2"/>
<path d="M-14,-22 C-18,0 -14,22 0,28 C14,22 18,0 14,-22" fill="none" stroke="#222" stroke-width="1.1" stroke-linecap="round" stroke-width="0.9"/>
<path d="M-12,-22 L-10,-28 M-6,-22 L-5,-28 M0,-22 L0,-28 M6,-22 L6,-28" fill="none" stroke="#222" stroke-width="1.1" stroke-linecap="round" stroke-width="0.8"/>
<circle cx="-7" cy="-8" r="2.5" fill="none" stroke="#222" stroke-width="1"/><circle cx="-7" cy="-8" r="1" fill="#111"/>
<circle cx="7" cy="-8" r="2.5" fill="none" stroke="#222" stroke-width="1"/><circle cx="7" cy="-8" r="1" fill="#111"/>
<path d="M0,-4 L0,6 M-5,8 L-4,9 M4,8 L5,9 M-4,14 C-2,18 2,18 4,14" fill="none" stroke="#222" stroke-width="1.1" stroke-linecap="round"/>
<path d="M-20,24 C-10,28 10,28 20,24" stroke="#999" stroke-width="1.5"/></g></g><circle cx="345.3" cy="626.5" r="30.2" fill="none" stroke="#fff" stroke-width="1.2"/><circle cx="345.3" cy="626.5" r="31.6" fill="none" stroke="#111" stroke-width="2.1"/><circle cx="345.3" cy="626.5" r="29.3" fill="none" stroke="#6a6a6a" stroke-width="0.9"/><circle cx="436.7" cy="626.45" r="31" fill="#fff"/><g transform="translate(436.7,626.45)"><clipPath id="cmasa"><circle r="29.0"/></clipPath><g clip-path="url(#cmasa)"><path d="M-20,4 C-24,-12 -10,-24 6,-22 C18,-20 26,-10 24,4 C22,18 10,26 -4,26 C-14,24 -20,16 -20,4 Z" fill="none" stroke="#222" stroke-width="1.1" stroke-linecap="round"/>
<path d="M-2,-28 C4,-24 14,-24 20,-18" fill="none" stroke="#222" stroke-width="1.1" stroke-linecap="round" stroke-width="0.8"/>
<circle cx="-10" cy="6" r="2" fill="#111"/><circle cx="4" cy="4" r="2" fill="#111"/>
<path d="M-14,0 C-12,-4 -8,-4 -6,-2 M0,-2 C2,-6 6,-6 8,-4" fill="none" stroke="#222" stroke-width="1.1" stroke-linecap="round"/>
<ellipse cx="-6" cy="16" rx="3" ry="3.5" fill="#fff" stroke="#222" stroke-width="1.1"/>
<path d="M-28,14 L-20,10 L-20,20 Z" fill="none" stroke="#222" stroke-width="1"/>
<path d="M18,6 L26,10 M16,10 L24,14" fill="none" stroke="#222" stroke-width="1.1" stroke-linecap="round" stroke-width="0.8"/></g></g><circle cx="436.7" cy="626.45" r="30.2" fill="none" stroke="#fff" stroke-width="1.2"/><circle cx="436.7" cy="626.45" r="31.6" fill="none" stroke="#111" stroke-width="2.1"/><circle cx="436.7" cy="626.45" r="29.3" fill="none" stroke="#6a6a6a" stroke-width="0.9"/><rect x="801.5" y="52.5" width="182" height="74.5" rx="3.5" fill="#fff" stroke="#555" stroke-width="1"/><rect x="552.5" y="541" width="182.5" height="133.5" rx="3.5" fill="#fff" stroke="#555" stroke-width="1"/><text x="323.2" y="119.1" font-size="10.0" fill="#262626" stroke="#262626" stroke-width="0.18" textLength="45.4" lengthAdjust="spacingAndGlyphs" >[イラスト]</text><text x="375.0" y="119.8" font-size="12.0" fill="#262626" stroke="#262626" stroke-width="0.18" textLength="22.9" lengthAdjust="spacingAndGlyphs" >寅年</text><text x="320.3" y="136.3" font-size="12.0" fill="#262626" stroke="#262626" stroke-width="0.18" textLength="77.6" lengthAdjust="spacingAndGlyphs" >大おばあちゃん</text><text x="380.3" y="149.6" font-size="12" fill="#262626" stroke="#262626" stroke-width="0.18" textLength="17.6" lengthAdjust="spacingAndGlyphs" >149</text><text x="203.3" y="210.0" font-size="10.0" fill="#262626" stroke="#262626" stroke-width="0.18" textLength="25.4" lengthAdjust="spacingAndGlyphs" >[小説]</text><text x="231.9" y="210.7" font-size="12.0" fill="#262626" stroke="#262626" stroke-width="0.18" textLength="74.3" lengthAdjust="spacingAndGlyphs" >習慣(癖)-26</text><text x="198.3" y="227.2" font-size="12.0" fill="#262626" stroke="#262626" stroke-width="0.18" textLength="111.7" lengthAdjust="spacingAndGlyphs" >地名しりとりクイズ -32</text><text x="232.5" y="313.2" font-size="11.0" fill="#262626" stroke="#262626" stroke-width="0.18" textLength="43.9" lengthAdjust="spacingAndGlyphs" >我梨嶺翁</text><text x="556.7" y="184.4" font-size="12.0" fill="#262626" stroke="#262626" stroke-width="0.18" textLength="59.6" lengthAdjust="spacingAndGlyphs" >ネコ通信社</text><text x="562.4" y="197.9" font-size="12.0" fill="#262626" stroke="#262626" stroke-width="0.18" textLength="48.2" lengthAdjust="spacingAndGlyphs" >物語 -16</text><text x="569.1" y="213.6" font-size="12.0" fill="#262626" stroke="#262626" stroke-width="0.18" textLength="34.8" lengthAdjust="spacingAndGlyphs" >うちの</text><text x="556.7" y="227.5" font-size="12.0" fill="#262626" stroke="#262626" stroke-width="0.18" textLength="60.2" lengthAdjust="spacingAndGlyphs" >座敷童 -22</text><text x="570.5" y="313.4" font-size="11.0" fill="#262626" stroke="#262626" stroke-width="0.18" textLength="32.5" lengthAdjust="spacingAndGlyphs" >中森愛</text><text x="642.1" y="195.6" font-size="10" fill="#262626" stroke="#262626" stroke-width="0.18" textLength="40.4" lengthAdjust="spacingAndGlyphs" >[how-to]</text><text x="629.7" y="210.9" font-size="12.0" fill="#262626" stroke="#262626" stroke-width="0.18" textLength="65.2" lengthAdjust="spacingAndGlyphs" >myご朱印帳</text><text x="629.7" y="227.5" font-size="12.0" fill="#262626" stroke="#262626" stroke-width="0.18" textLength="66.3" lengthAdjust="spacingAndGlyphs" >の作り方-30</text><text x="629.3" y="313.4" font-size="11.0" fill="#262626" stroke="#262626" stroke-width="0.18" textLength="66.0" lengthAdjust="spacingAndGlyphs" >わらしちゃん</text><text x="716.2" y="193.4" font-size="12.0" fill="#262626" stroke="#262626" stroke-width="0.18" textLength="46.1" lengthAdjust="spacingAndGlyphs" >キャット</text><text x="709.9" y="210.7" font-size="12.0" fill="#262626" stroke="#262626" stroke-width="0.18" textLength="59.1" lengthAdjust="spacingAndGlyphs" >パトロール</text><text x="717.7" y="313.4" font-size="11.0" fill="#262626" stroke="#262626" stroke-width="0.18" textLength="43.6" lengthAdjust="spacingAndGlyphs" >五藤加純</text><text x="917.6" y="178.9" font-size="10.0" fill="#262626" stroke="#262626" stroke-width="0.18" textLength="63.9" lengthAdjust="spacingAndGlyphs" >[ドキュメント]</text><text x="931.7" y="193.2" font-size="12.0" fill="#262626" stroke="#262626" stroke-width="0.18" textLength="35.7" lengthAdjust="spacingAndGlyphs" >脳出血</text><text x="928.3" y="210.3" font-size="12.0" fill="#262626" stroke="#262626" stroke-width="0.18" textLength="42.5" lengthAdjust="spacingAndGlyphs" >vs. 骨折</text><text x="943.5" y="227.4" font-size="12" fill="#262626" stroke="#262626" stroke-width="0.18" textLength="12.7" lengthAdjust="spacingAndGlyphs" >34</text><text x="928.0" y="312.8" font-size="11.0" fill="#262626" stroke="#262626" stroke-width="0.18" textLength="43.5" lengthAdjust="spacingAndGlyphs" >ごんちち</text><text x="50.0" y="397.3" font-size="10.0" fill="#262626" stroke="#262626" stroke-width="0.18" textLength="45.4" lengthAdjust="spacingAndGlyphs" >[イラスト]</text><text x="66.4" y="413.8" font-size="12" fill="#262626" stroke="#262626" stroke-width="0.18" textLength="12.9" lengthAdjust="spacingAndGlyphs" >66</text><text x="55.5" y="496.3" font-size="11.0" fill="#262626" stroke="#262626" stroke-width="0.18" textLength="32.9" lengthAdjust="spacingAndGlyphs" >野々倉</text><text x="140.0" y="343.1" font-size="10.0" fill="#262626" stroke="#262626" stroke-width="0.18" textLength="45.5" lengthAdjust="spacingAndGlyphs" >[エッセイ]</text><text x="141.8" y="357.4" font-size="12.0" fill="#262626" stroke="#262626" stroke-width="0.18" textLength="41.0" lengthAdjust="spacingAndGlyphs" >インター</text><text x="137.1" y="371.7" font-size="12.0" fill="#262626" stroke="#262626" stroke-width="0.18" textLength="50.1" lengthAdjust="spacingAndGlyphs" >ナショナル</text><text x="141.1" y="385.6" font-size="12.0" fill="#262626" stroke="#262626" stroke-width="0.18" textLength="41.7" lengthAdjust="spacingAndGlyphs" >スクール</text><text x="145.2" y="398.8" font-size="12.0" fill="#262626" stroke="#262626" stroke-width="0.18" textLength="34.7" lengthAdjust="spacingAndGlyphs" >事件簿</text><text x="156.4" y="414.9" font-size="12" fill="#262626" stroke="#262626" stroke-width="0.18" textLength="12.5" lengthAdjust="spacingAndGlyphs" >82</text><text x="146.3" y="497.7" font-size="11.0" fill="#262626" stroke="#262626" stroke-width="0.18" textLength="32.3" lengthAdjust="spacingAndGlyphs" >飼い猫</text><text x="224.1" y="361.8" font-size="12.0" fill="#262626" stroke="#262626" stroke-width="0.18" textLength="59.8" lengthAdjust="spacingAndGlyphs" >寄席に興味</text><text x="224.1" y="379.2" font-size="12.0" fill="#262626" stroke="#262626" stroke-width="0.18" textLength="59.0" lengthAdjust="spacingAndGlyphs" >もってもら</text><text x="224.1" y="396.6" font-size="12.0" fill="#262626" stroke="#262626" stroke-width="0.18" textLength="59.8" lengthAdjust="spacingAndGlyphs" >いたい原稿</text><text x="248.2" y="413.2" font-size="12" fill="#262626" stroke="#262626" stroke-width="0.18" textLength="12.0" lengthAdjust="spacingAndGlyphs" >78</text><text x="225.6" y="497.7" font-size="11.0" fill="#262626" stroke="#262626" stroke-width="0.18" textLength="56.4" lengthAdjust="spacingAndGlyphs" >高世えり子</text><text x="322.6" y="381.0" font-size="10.0" fill="#262626" stroke="#262626" stroke-width="0.18" textLength="44.8" lengthAdjust="spacingAndGlyphs" >[イラスト]</text><text x="316.3" y="394.1" font-size="12.0" fill="#262626" stroke="#262626" stroke-width="0.18" textLength="58.1" lengthAdjust="spacingAndGlyphs" >プリキュア</text><text x="339.2" y="412.4" font-size="12" fill="#262626" stroke="#262626" stroke-width="0.18" textLength="12.8" lengthAdjust="spacingAndGlyphs" >52</text><text x="318.0" y="498.0" font-size="11.0" fill="#262626" stroke="#262626" stroke-width="0.18" textLength="54.8" lengthAdjust="spacingAndGlyphs" >ともちゃん</text><text x="573.4" y="356.8" font-size="10.0" fill="#262626" stroke="#262626" stroke-width="0.18" textLength="26.4" lengthAdjust="spacingAndGlyphs" >[評論]</text><text x="557.3" y="370.7" font-size="12.0" fill="#262626" stroke="#262626" stroke-width="0.18" textLength="58.6" lengthAdjust="spacingAndGlyphs" >ちよこねの</text><text x="571.2" y="384.6" font-size="12" fill="#262626" stroke="#262626" stroke-width="0.18" textLength="30.8" lengthAdjust="spacingAndGlyphs" >2018</text><text x="556.6" y="397.8" font-size="12.0" fill="#262626" stroke="#262626" stroke-width="0.18" textLength="60.0" lengthAdjust="spacingAndGlyphs" >ゲーム批評</text><text x="580.8" y="414.3" font-size="12" fill="#262626" stroke="#262626" stroke-width="0.18" textLength="12.4" lengthAdjust="spacingAndGlyphs" >74</text><text x="565.3" y="499.0" font-size="11.0" fill="#262626" stroke="#262626" stroke-width="0.18" textLength="43.1" lengthAdjust="spacingAndGlyphs" >ちよこね</text><text x="639.6" y="382.0" font-size="10.0" fill="#262626" stroke="#262626" stroke-width="0.18" textLength="45.2" lengthAdjust="spacingAndGlyphs" >[エッセイ]</text><text x="633.2" y="397.0" font-size="12.0" fill="#262626" stroke="#262626" stroke-width="0.18" textLength="58.9" lengthAdjust="spacingAndGlyphs" >ゴジラの話</text><text x="656.9" y="414.3" font-size="12" fill="#262626" stroke="#262626" stroke-width="0.18" textLength="12.0" lengthAdjust="spacingAndGlyphs" >70</text><text x="641.3" y="499.0" font-size="11.0" fill="#262626" stroke="#262626" stroke-width="0.18" textLength="43.1" lengthAdjust="spacingAndGlyphs" >すずき鮭</text><text x="743.1" y="366.8" font-size="10.0" fill="#262626" stroke="#262626" stroke-width="0.18" textLength="67.3" lengthAdjust="spacingAndGlyphs" >[エッセイ&amp;ゲーム]</text><text x="747.5" y="381.4" font-size="12.0" fill="#262626" stroke="#262626" stroke-width="0.18" textLength="58.5" lengthAdjust="spacingAndGlyphs" >よみがえる</text><text x="759.2" y="396.8" font-size="12.0" fill="#262626" stroke="#262626" stroke-width="0.18" textLength="35.1" lengthAdjust="spacingAndGlyphs" >遺　産</text><text x="769.9" y="412.9" font-size="12" fill="#262626" stroke="#262626" stroke-width="0.18" textLength="12.7" lengthAdjust="spacingAndGlyphs" >87</text><text x="759.5" y="499.8" font-size="11.0" fill="#262626" stroke="#262626" stroke-width="0.18" textLength="33.9" lengthAdjust="spacingAndGlyphs" >霧　ん</text><text x="832.8" y="382.9" font-size="10.0" fill="#262626" stroke="#262626" stroke-width="0.18" textLength="44.6" lengthAdjust="spacingAndGlyphs" >[イラスト]</text><text x="832.8" y="396.8" font-size="12" fill="#262626" stroke="#262626" stroke-width="0.18" textLength="45.0" lengthAdjust="spacingAndGlyphs" >Fantasy</text><text x="849.0" y="412.9" font-size="12" fill="#262626" stroke="#262626" stroke-width="0.18" textLength="12.3" lengthAdjust="spacingAndGlyphs" >62</text><text x="837.2" y="499.8" font-size="11" fill="#262626" stroke="#262626" stroke-width="0.18" textLength="35.5" lengthAdjust="spacingAndGlyphs" >chihiro</text><text x="129.8" y="570.1" font-size="12.0" fill="#262626" stroke="#262626" stroke-width="0.18" textLength="70.1" lengthAdjust="spacingAndGlyphs" >星のカービィ</text><text x="156.5" y="586.5" font-size="12" fill="#262626" stroke="#262626" stroke-width="0.18" textLength="12.8" lengthAdjust="spacingAndGlyphs" >56</text><text x="137.8" y="672.8" font-size="11.0" fill="#262626" stroke="#262626" stroke-width="0.18" textLength="55.7" lengthAdjust="spacingAndGlyphs" >高世ハルカ</text><text x="230.5" y="555.7" font-size="10.0" fill="#262626" stroke="#262626" stroke-width="0.18" textLength="46.8" lengthAdjust="spacingAndGlyphs" >[イラスト]</text><text x="224.1" y="570.1" font-size="12.0" fill="#262626" stroke="#262626" stroke-width="0.18" textLength="59.6" lengthAdjust="spacingAndGlyphs" >ゴジラ連作</text><text x="247.5" y="586.5" font-size="12" fill="#262626" stroke="#262626" stroke-width="0.18" textLength="12.9" lengthAdjust="spacingAndGlyphs" >58</text><text x="225.4" y="672.8" font-size="11.0" fill="#262626" stroke="#262626" stroke-width="0.18" textLength="56.4" lengthAdjust="spacingAndGlyphs" >高世カオル</text><text x="321.1" y="555.7" font-size="10.0" fill="#262626" stroke="#262626" stroke-width="0.18" textLength="47.5" lengthAdjust="spacingAndGlyphs" >[似顔絵 他]</text><text x="315.5" y="569.8" font-size="12.0" fill="#262626" stroke="#262626" stroke-width="0.18" textLength="59.6" lengthAdjust="spacingAndGlyphs" >おかあさん</text><text x="338.8" y="586.5" font-size="12" fill="#262626" stroke="#262626" stroke-width="0.18" textLength="13.2" lengthAdjust="spacingAndGlyphs" >60</text><text x="317.0" y="672.8" font-size="11.0" fill="#262626" stroke="#262626" stroke-width="0.18" textLength="55.7" lengthAdjust="spacingAndGlyphs" >あこちゃん</text><text x="408.9" y="555.7" font-size="10.0" fill="#262626" stroke="#262626" stroke-width="0.18" textLength="54.8" lengthAdjust="spacingAndGlyphs" >[イラスト?]</text><text x="424.6" y="569.8" font-size="12.0" fill="#262626" stroke="#262626" stroke-width="0.18" textLength="23.0" lengthAdjust="spacingAndGlyphs" >手形</text><text x="429.9" y="586.5" font-size="12" fill="#262626" stroke="#262626" stroke-width="0.18" textLength="12.9" lengthAdjust="spacingAndGlyphs" >55</text><text x="414.7" y="672.8" font-size="11.0" fill="#262626" stroke="#262626" stroke-width="0.18" textLength="43.3" lengthAdjust="spacingAndGlyphs" >マサキン</text><text x="806.0" y="68.3" font-size="12.0" fill="#262626" stroke="#262626" stroke-width="0.18" textLength="173.3" lengthAdjust="spacingAndGlyphs" >メンバーが、前回の「一族本3」</text><text x="806.0" y="85.8" font-size="12.0" fill="#262626" stroke="#262626" stroke-width="0.18" textLength="173.3" lengthAdjust="spacingAndGlyphs" >(2009年刊)までは2世代だったの</text><text x="806.0" y="104.3" font-size="12.0" fill="#262626" stroke="#262626" stroke-width="0.18" textLength="173.3" lengthAdjust="spacingAndGlyphs" >に、ついに大おばあちゃんまで担</text><text x="806.0" y="121.8" font-size="12.0" fill="#262626" stroke="#262626" stroke-width="0.18" textLength="128.0" lengthAdjust="spacingAndGlyphs" >ぎ出し、4世代またぎに。</text><text x="556.8" y="555.1" font-size="11.0" fill="#262626" stroke="#262626" stroke-width="0.18" textLength="172.1" lengthAdjust="spacingAndGlyphs" >「同人誌を作りたいという輩が集まっ</text><text x="556.8" y="569.2" font-size="11.0" fill="#262626" stroke="#262626" stroke-width="0.18" textLength="172.1" lengthAdjust="spacingAndGlyphs" >たら全員親戚だった/4世代血縁者</text><text x="556.8" y="583.3" font-size="11.0" fill="#262626" stroke="#262626" stroke-width="0.18" textLength="125.5" lengthAdjust="spacingAndGlyphs" >アンソロジー」(OPENING)</text><text x="724.3" y="583.3" font-size="11" fill="#262626" stroke="#262626" stroke-width="0.18" textLength="4.6" lengthAdjust="spacingAndGlyphs" >4</text><text x="556.8" y="600.4" font-size="11.0" fill="#262626" stroke="#262626" stroke-width="0.18" textLength="124.2" lengthAdjust="spacingAndGlyphs" >執筆者(一部)紹介マンガ①</text><text x="724.0" y="600.4" font-size="11" fill="#262626" stroke="#262626" stroke-width="0.18" textLength="4.9" lengthAdjust="spacingAndGlyphs" >8</text><text x="556.8" y="618.0" font-size="11.0" fill="#262626" stroke="#262626" stroke-width="0.18" textLength="124.2" lengthAdjust="spacingAndGlyphs" >執筆者(一部)紹介マンガ②</text><text x="717.5" y="618.0" font-size="11" fill="#262626" stroke="#262626" stroke-width="0.18" textLength="11.5" lengthAdjust="spacingAndGlyphs" >50</text><text x="556.8" y="635.0" font-size="11.0" fill="#262626" stroke="#262626" stroke-width="0.18" textLength="123.2" lengthAdjust="spacingAndGlyphs" >大おばあちゃんのみそパン</text><text x="712.0" y="635.0" font-size="11" fill="#262626" stroke="#262626" stroke-width="0.18" textLength="17.0" lengthAdjust="spacingAndGlyphs" >144</text><text x="556.8" y="652.4" font-size="11.0" fill="#262626" stroke="#262626" stroke-width="0.18" textLength="41.5" lengthAdjust="spacingAndGlyphs" >編集後記</text><text x="712.0" y="652.4" font-size="11" fill="#262626" stroke="#262626" stroke-width="0.18" textLength="17.0" lengthAdjust="spacingAndGlyphs" >150</text><text x="645.7" y="669.5" font-size="11.0" fill="#262626" stroke="#262626" stroke-width="0.18" textLength="83.2" lengthAdjust="spacingAndGlyphs" >以上by高世えり子</text><text x="789.7" y="608.5" font-size="11.0" fill="#262626" stroke="#262626" stroke-width="0.18" textLength="43.7" lengthAdjust="spacingAndGlyphs" >夫婦又は</text><text x="789.7" y="622.9" font-size="11.0" fill="#262626" stroke="#262626" stroke-width="0.18" textLength="32.7" lengthAdjust="spacingAndGlyphs" >婚約中</text><text x="789.7" y="641.5" font-size="11.0" fill="#262626" stroke="#262626" stroke-width="0.18" textLength="10.8" lengthAdjust="spacingAndGlyphs" >子</text><text x="822.6" y="641.5" font-size="11.0" fill="#262626" stroke="#262626" stroke-width="0.18" textLength="10.8" lengthAdjust="spacingAndGlyphs" >供</text><text x="789.7" y="666.5" font-size="11.0" fill="#262626" stroke="#262626" stroke-width="0.18" textLength="43.7" lengthAdjust="spacingAndGlyphs" >兄弟姉妹</text><text x="901.7" y="622.3" font-size="11.0" fill="#262626" stroke="#262626" stroke-width="0.18" textLength="43.6" lengthAdjust="spacingAndGlyphs" >非オタク</text><text x="901.7" y="653.0" font-size="11.0" fill="#262626" stroke="#262626" stroke-width="0.18" textLength="78.1" lengthAdjust="spacingAndGlyphs" >オタクでありな</text><text x="901.7" y="667.4" font-size="11.0" fill="#262626" stroke="#262626" stroke-width="0.18" textLength="78.1" lengthAdjust="spacingAndGlyphs" >がら今回不参加</text><line x1="692.9" y1="580.5" x2="723" y2="580.5" stroke="#444" stroke-width="1.15" stroke-linecap="round" stroke-dasharray="0.01,3.55"/><line x1="682.1" y1="597.6" x2="722.5" y2="597.6" stroke="#444" stroke-width="1.15" stroke-linecap="round" stroke-dasharray="0.01,3.55"/><line x1="682.1" y1="615.2" x2="710.7" y2="615.2" stroke="#444" stroke-width="1.15" stroke-linecap="round" stroke-dasharray="0.01,3.55"/><line x1="681.1" y1="632.2" x2="700.4" y2="632.2" stroke="#444" stroke-width="1.15" stroke-linecap="round" stroke-dasharray="0.01,3.55"/><line x1="599.1" y1="649.6" x2="700" y2="649.6" stroke="#444" stroke-width="1.15" stroke-linecap="round" stroke-dasharray="0.01,3.55"/><rect x="706.7" y="218.6" width="9.7" height="9.8" rx="1.5" fill="none" stroke="#888" stroke-width="0.8"/><rect x="741.8" y="218.6" width="9.7" height="9.8" rx="1.5" fill="none" stroke="#888" stroke-width="0.8"/><text x="709.3" y="227.0" font-size="10" fill="#262626" stroke="#262626" stroke-width="0.18" textLength="4.7" lengthAdjust="spacingAndGlyphs" >1</text><text x="744.2" y="227.0" font-size="10" fill="#262626" stroke="#262626" stroke-width="0.18" textLength="5.0" lengthAdjust="spacingAndGlyphs" >2</text><text x="717.6" y="227.4" font-size="12" fill="#262626" stroke="#262626" stroke-width="0.18" textLength="12.5" lengthAdjust="spacingAndGlyphs" >38</text><line x1="731.2" y1="228.3" x2="740.2" y2="218.3" stroke="#333" stroke-width="1"/><text x="754.7" y="227.4" font-size="12" fill="#262626" stroke="#262626" stroke-width="0.18" textLength="17.6" lengthAdjust="spacingAndGlyphs" >123</text><path d="M965,122 L965,116 C965,112 971,112 971,116 L971,122 M972.5,122 L972.5,116 C972.5,112 978.5,112 978.5,116 L978.5,122" fill="none" stroke="#333" stroke-width="1.1"/><line x1="744.4" y1="610.5" x2="785.1" y2="610.5" stroke="#333" stroke-width="1.1"/><line x1="744.4" y1="612.5" x2="785.1" y2="612.5" stroke="#333" stroke-width="1.1"/><line x1="765.5" y1="631.2" x2="765.5" y2="643.3" stroke="#333" stroke-width="2"/><polyline points="755.5,669.1 755.5,655.5 773.5,655.5 773.5,669.1" fill="none" stroke="#545454" stroke-width="1.2" stroke-linejoin="miter" stroke-linecap="square"/><rect x="843.4" y="598.2" width="140.7" height="76.6" fill="none" stroke="#888" stroke-width="0.9"/><line x1="843.4" y1="637.5" x2="984.1" y2="637.5" stroke="#888" stroke-width="0.9"/><line x1="897.5" y1="598.2" x2="897.5" y2="674.8" stroke="#888" stroke-width="0.9"/><line x1="484.5" y1="329" x2="484.5" y2="398" stroke="#555" stroke-width="0.8"/><line x1="467" y1="363.5" x2="502" y2="363.5" stroke="#555" stroke-width="0.8"/><circle cx="484.2" cy="363.2" r="9" fill="none" stroke="#555" stroke-width="0.8"/><line x1="539.5" y1="329" x2="539.5" y2="398" stroke="#555" stroke-width="0.8"/><line x1="522" y1="363.5" x2="557" y2="363.5" stroke="#555" stroke-width="0.8"/><circle cx="539.3" cy="363.2" r="9" fill="none" stroke="#555" stroke-width="0.8"/></svg>
</body></html>
